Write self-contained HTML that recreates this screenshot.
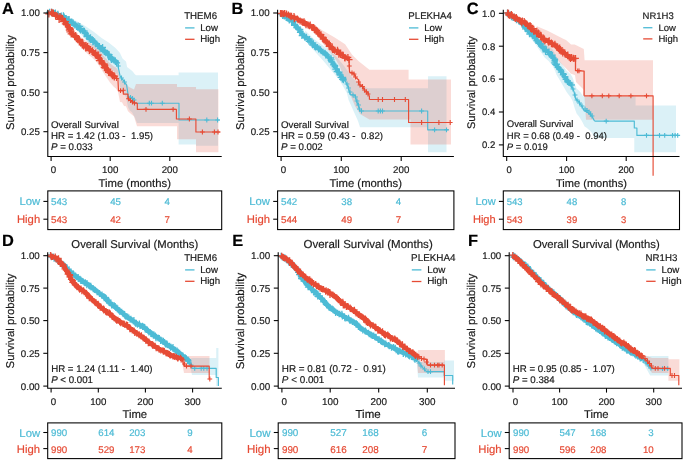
<!DOCTYPE html>
<html><head><meta charset="utf-8"><style>
html,body{margin:0;padding:0;background:#fff;}
svg{display:block;will-change:transform;}
text{font-family:"Liberation Sans",sans-serif;text-rendering:geometricPrecision;stroke:currentColor;stroke-width:0.18px;}
</style></head><body>
<svg width="685" height="461" viewBox="0 0 685 461">
<rect width="685" height="461" fill="#fff"/>
<polygon points="50.0,12.0 58.0,12.8 65.2,15.3 77.4,21.5 86.0,26.5 94.7,32.5 101.6,38.0 108.6,42.5 115.5,48.0 120.0,53.0 122.5,58.5 126.0,61.5 127.1,67.0 132.5,71.2 134.6,74.0 136.0,75.2 178.6,75.2 178.6,72.6 218.0,72.6 218.0,145.7 196.0,145.7 196.0,144.6 178.6,144.6 178.6,122.9 137.0,122.9 135.0,118.0 134.0,115.9 132.0,112.2 130.0,110.8 128.0,107.3 126.0,97.2 124.0,93.9 122.0,90.8 120.0,87.5 118.0,75.0 116.0,73.2 114.0,71.4 112.0,69.6 110.0,67.3 108.0,64.5 106.0,62.0 104.0,59.7 102.0,57.6 100.0,55.5 98.0,53.2 96.0,50.8 94.0,48.7 92.0,46.9 90.0,45.2 88.0,42.8 86.0,40.2 84.0,37.8 82.0,35.6 80.0,33.3 78.0,31.5 76.0,29.7 74.0,28.0 72.0,26.3 70.0,24.6 68.0,23.1 66.0,21.5 64.0,20.0 62.0,18.6 60.0,17.1 58.0,15.7 56.0,14.8 54.0,14.3 52.0,14.2 50.0,14.0" fill="#4DBBD5" fill-opacity="0.2" stroke="none"/>
<polygon points="50.0,12.0 52.0,12.4 54.0,13.3 56.0,14.7 58.0,15.6 60.0,16.4 62.0,17.5 64.0,18.7 66.0,20.2 68.0,23.0 70.0,26.6 72.0,30.0 74.0,31.6 76.0,33.2 78.0,34.7 80.0,36.2 82.0,37.9 84.0,39.6 86.0,41.0 88.0,42.1 90.0,43.1 92.0,44.2 94.0,45.3 96.0,46.9 98.0,48.7 100.0,51.1 102.0,53.8 104.0,56.2 106.0,58.5 108.0,60.9 110.0,63.2 112.0,64.9 114.0,66.6 116.0,67.5 118.0,69.9 120.0,79.5 122.0,79.2 124.0,82.3 126.0,81.9 128.0,86.3 130.0,87.5 132.0,88.5 134.0,89.6 136.0,83.9 177.0,83.9 177.0,87.1 196.0,87.1 196.0,89.3 218.4,89.3 218.4,152.2 196.0,152.2 196.0,139.2 177.0,139.2 177.0,126.2 137.0,126.2 136.0,122.9 134.0,116.4 132.0,114.8 130.0,113.1 128.0,111.3 126.0,106.3 124.0,105.9 122.0,102.2 120.0,101.9 118.0,91.7 116.0,88.6 114.0,87.0 112.0,84.7 110.0,82.4 108.0,79.5 106.0,76.5 104.0,73.4 102.0,70.5 100.0,67.1 98.0,64.1 96.0,61.6 94.0,59.4 92.0,57.6 90.0,55.9 88.0,54.2 86.0,52.5 84.0,50.5 82.0,48.2 80.0,45.8 78.0,43.7 76.0,41.5 74.0,39.3 72.0,37.1 70.0,33.0 68.0,28.8 66.0,25.3 64.0,23.1 62.0,21.4 60.0,19.6 58.0,18.1 56.0,16.7 54.0,15.3 52.0,14.4 50.0,14.0" fill="#E64B35" fill-opacity="0.2" stroke="none"/>
<polyline points="50.0,13.0 54.0,13.3 58.0,14.3 65.5,18.5 70.0,21.2 75.3,24.8 80.0,28.2 85.0,33.0 89.5,38.0 94.8,41.8 100.0,47.0 104.6,51.0 107.5,54.0 111.0,58.4 114.3,60.7 118.0,63.4" fill="none" stroke="#4DBBD5" stroke-width="3.6" stroke-linejoin="round" stroke-linecap="butt" />
<path d="M46.2,12.2h6.8M49.6,8.8v6.8M48.3,12.1h6.8M51.7,8.7v6.8M49.3,12.9h6.8M52.7,9.5v6.8M49.4,13.3h6.8M52.8,9.9v6.8M50.6,13.4h6.8M54.0,10.0v6.8M52.0,12.9h6.8M55.4,9.5v6.8M54.1,15.0h6.8M57.5,11.6v6.8M54.5,14.1h6.8M57.9,10.7v6.8M56.9,16.5h6.8M60.3,13.1v6.8M57.9,15.8h6.8M61.3,12.4v6.8M60.0,15.6h6.8M63.4,12.2v6.8M60.8,16.8h6.8M64.2,13.4v6.8M60.3,17.0h6.8M63.7,13.6v6.8M61.8,19.3h6.8M65.2,15.9v6.8M62.6,19.5h6.8M66.0,16.1v6.8M64.8,19.6h6.8M68.2,16.2v6.8M65.7,19.5h6.8M69.1,16.1v6.8M65.6,20.6h6.8M69.0,17.2v6.8M68.2,21.8h6.8M71.6,18.4v6.8M68.4,22.9h6.8M71.8,19.5v6.8M69.8,23.0h6.8M73.2,19.6v6.8M71.7,24.7h6.8M75.1,21.3v6.8M71.5,25.1h6.8M74.9,21.7v6.8M73.2,26.6h6.8M76.6,23.2v6.8M74.7,25.9h6.8M78.1,22.5v6.8M76.4,26.3h6.8M79.8,22.9v6.8M76.1,28.6h6.8M79.5,25.2v6.8M76.4,28.8h6.8M79.8,25.4v6.8M77.1,30.1h6.8M80.5,26.7v6.8M79.8,30.8h6.8M83.2,27.4v6.8M81.0,31.1h6.8M84.4,27.7v6.8M81.5,32.7h6.8M84.9,29.3v6.8M82.1,33.3h6.8M85.5,29.9v6.8M83.6,35.4h6.8M87.0,32.0v6.8M83.6,35.7h6.8M87.0,32.3v6.8M83.5,36.7h6.8M86.9,33.3v6.8M85.8,38.4h6.8M89.2,35.0v6.8M87.1,37.6h6.8M90.5,34.2v6.8M87.1,39.3h6.8M90.5,35.9v6.8M87.3,39.6h6.8M90.7,36.2v6.8M88.7,39.5h6.8M92.1,36.1v6.8M89.5,41.8h6.8M92.9,38.4v6.8M90.7,41.4h6.8M94.1,38.0v6.8M92.2,43.8h6.8M95.6,40.4v6.8M92.4,43.7h6.8M95.8,40.3v6.8M94.4,45.6h6.8M97.8,42.2v6.8M96.0,46.5h6.8M99.4,43.1v6.8M95.6,46.4h6.8M99.0,43.0v6.8M96.8,48.4h6.8M100.2,45.0v6.8M99.2,47.5h6.8M102.6,44.1v6.8M98.3,48.5h6.8M101.7,45.1v6.8M99.4,50.0h6.8M102.8,46.6v6.8M101.3,50.3h6.8M104.7,46.9v6.8M100.8,51.6h6.8M104.2,48.2v6.8M102.5,52.9h6.8M105.9,49.5v6.8M104.8,54.1h6.8M108.2,50.7v6.8M104.6,54.9h6.8M108.0,51.5v6.8M105.8,54.6h6.8M109.2,51.2v6.8M107.2,57.3h6.8M110.6,53.9v6.8M107.9,58.4h6.8M111.3,55.0v6.8M107.7,58.4h6.8M111.1,55.0v6.8M108.0,59.7h6.8M111.4,56.3v6.8M109.0,59.1h6.8M112.4,55.7v6.8M110.4,60.0h6.8M113.8,56.6v6.8M111.8,60.6h6.8M115.2,57.2v6.8M112.0,61.6h6.8M115.4,58.2v6.8M113.3,62.8h6.8M116.7,59.4v6.8" stroke="#4DBBD5" stroke-width="1.3" fill="none"/>
<polyline points="118.0,63.4 118.5,68.5 120.1,76.1 123.4,80.4 125.5,83.7 126.6,85.0 127.9,93.5 128.5,96.7 131.0,97.5 133.0,99.0 134.4,102.6 135.0,103.2" fill="none" stroke="#4DBBD5" stroke-width="1.2" stroke-linejoin="round" stroke-linecap="butt" />
<polyline points="135.0,103.2 179.0,103.2 179.0,120.0 219.8,120.0 219.8,120.0" fill="none" stroke="#4DBBD5" stroke-width="1.15" stroke-linejoin="round" stroke-linecap="butt" />
<path d="M146.9,103.2H151.7M149.3,100.8V105.6" stroke="#4DBBD5" stroke-width="1.1" fill="none"/>
<path d="M149.1,103.2H153.9M151.5,100.8V105.6" stroke="#4DBBD5" stroke-width="1.1" fill="none"/>
<path d="M159.9,103.2H164.7M162.3,100.8V105.6" stroke="#4DBBD5" stroke-width="1.1" fill="none"/>
<path d="M204.4,120.0H209.2M206.8,117.6V122.4" stroke="#4DBBD5" stroke-width="1.1" fill="none"/>
<path d="M215.2,120.0H220.0M217.6,117.6V122.4" stroke="#4DBBD5" stroke-width="1.1" fill="none"/>
<path d="M115.9,66.0H120.7M118.3,63.6V68.4" stroke="#4DBBD5" stroke-width="1.1" fill="none"/>
<path d="M119.1,78.0H123.9M121.5,75.6V80.4" stroke="#4DBBD5" stroke-width="1.1" fill="none"/>
<path d="M122.1,82.0H126.9M124.5,79.6V84.4" stroke="#4DBBD5" stroke-width="1.1" fill="none"/>
<path d="M128.1,97.3H132.9M130.5,94.9V99.7" stroke="#4DBBD5" stroke-width="1.1" fill="none"/>
<path d="M130.1,98.5H134.9M132.5,96.1V100.9" stroke="#4DBBD5" stroke-width="1.1" fill="none"/>
<path d="M131.6,100.0H136.4M134.0,97.6V102.4" stroke="#4DBBD5" stroke-width="1.1" fill="none"/>
<polyline points="50.0,13.0 53.0,13.6 55.8,15.6 60.0,18.0 65.5,22.0 69.0,27.5 71.4,33.0 75.3,36.7 80.0,41.0 85.0,46.1 90.0,49.5 94.8,52.9 99.0,57.5 101.9,62.0 104.6,65.6 109.7,72.5 114.7,77.5" fill="none" stroke="#E64B35" stroke-width="4.0" stroke-linejoin="round" stroke-linecap="butt" />
<path d="M45.3,13.9h7.2M48.9,10.3v7.2M47.9,12.4h7.2M51.5,8.8v7.2M48.4,13.1h7.2M52.0,9.5v7.2M49.8,13.2h7.2M53.4,9.6v7.2M52.0,16.0h7.2M55.6,12.4v7.2M52.1,15.6h7.2M55.7,12.0v7.2M52.3,15.3h7.2M55.9,11.7v7.2M54.1,16.3h7.2M57.7,12.7v7.2M56.4,16.7h7.2M60.0,13.1v7.2M55.5,19.3h7.2M59.1,15.7v7.2M57.8,18.1h7.2M61.4,14.5v7.2M58.9,18.6h7.2M62.5,15.0v7.2M59.9,21.7h7.2M63.5,18.1v7.2M61.8,21.7h7.2M65.4,18.1v7.2M61.4,21.7h7.2M65.0,18.1v7.2M61.8,23.8h7.2M65.4,20.2v7.2M63.4,24.9h7.2M67.0,21.3v7.2M63.6,24.7h7.2M67.2,21.1v7.2M65.5,27.6h7.2M69.1,24.0v7.2M66.3,28.3h7.2M69.9,24.7v7.2M66.7,29.3h7.2M70.3,25.7v7.2M65.8,30.0h7.2M69.4,26.4v7.2M66.6,30.0h7.2M70.2,26.4v7.2M66.4,31.8h7.2M70.0,28.2v7.2M67.6,33.8h7.2M71.2,30.2v7.2M70.2,34.1h7.2M73.8,30.5v7.2M71.1,36.3h7.2M74.7,32.7v7.2M72.1,35.7h7.2M75.7,32.1v7.2M71.3,36.3h7.2M74.9,32.7v7.2M72.2,37.1h7.2M75.8,33.5v7.2M74.2,39.7h7.2M77.8,36.1v7.2M75.7,39.5h7.2M79.3,35.9v7.2M76.2,41.2h7.2M79.8,37.6v7.2M75.8,41.7h7.2M79.4,38.1v7.2M78.6,43.0h7.2M82.2,39.4v7.2M79.2,43.2h7.2M82.8,39.6v7.2M78.7,44.8h7.2M82.3,41.2v7.2M80.0,45.8h7.2M83.6,42.2v7.2M82.4,45.7h7.2M86.0,42.1v7.2M82.1,47.8h7.2M85.7,44.2v7.2M84.0,46.7h7.2M87.6,43.1v7.2M83.6,47.4h7.2M87.2,43.8v7.2M86.6,49.7h7.2M90.2,46.1v7.2M85.8,50.5h7.2M89.4,46.9v7.2M88.9,50.8h7.2M92.5,47.2v7.2M88.4,51.3h7.2M92.0,47.7v7.2M88.9,50.8h7.2M92.5,47.2v7.2M92.0,53.0h7.2M95.6,49.4v7.2M91.9,54.6h7.2M95.5,51.0v7.2M92.5,55.4h7.2M96.1,51.8v7.2M94.4,54.8h7.2M98.0,51.2v7.2M93.9,56.0h7.2M97.5,52.4v7.2M94.7,57.6h7.2M98.3,54.0v7.2M95.5,58.3h7.2M99.1,54.7v7.2M95.9,60.6h7.2M99.5,57.0v7.2M97.1,60.6h7.2M100.7,57.0v7.2M98.4,62.8h7.2M102.0,59.2v7.2M98.7,63.8h7.2M102.3,60.2v7.2M99.7,64.0h7.2M103.3,60.4v7.2M100.5,63.8h7.2M104.1,60.2v7.2M101.1,65.2h7.2M104.7,61.6v7.2M100.8,67.7h7.2M104.4,64.1v7.2M102.0,68.0h7.2M105.6,64.4v7.2M104.1,69.2h7.2M107.7,65.6v7.2M103.9,70.2h7.2M107.5,66.6v7.2M105.3,71.9h7.2M108.9,68.3v7.2M105.0,72.4h7.2M108.6,68.8v7.2M106.2,72.6h7.2M109.8,69.0v7.2M108.4,74.1h7.2M112.0,70.5v7.2M108.8,75.6h7.2M112.4,72.0v7.2M110.5,75.8h7.2M114.1,72.2v7.2M110.7,76.9h7.2M114.3,73.3v7.2" stroke="#E64B35" stroke-width="1.3" fill="none"/>
<polyline points="114.7,77.5 117.9,78.8 118.5,90.7 123.3,90.7 123.3,94.1 127.9,94.1 127.9,98.7 131.0,101.0 134.0,103.0 137.3,103.0" fill="none" stroke="#E64B35" stroke-width="1.2" stroke-linejoin="round" stroke-linecap="butt" />
<polyline points="137.3,103.0 137.3,109.4 176.4,109.4 176.4,119.0 195.9,119.0 195.9,132.0 220.2,132.0" fill="none" stroke="#E64B35" stroke-width="1.15" stroke-linejoin="round" stroke-linecap="butt" />
<path d="M143.6,109.4H148.4M146.0,107.0V111.8" stroke="#E64B35" stroke-width="1.1" fill="none"/>
<path d="M170.7,109.4H175.5M173.1,107.0V111.8" stroke="#E64B35" stroke-width="1.1" fill="none"/>
<path d="M187.0,119.0H191.8M189.4,116.6V121.4" stroke="#E64B35" stroke-width="1.1" fill="none"/>
<path d="M200.0,132.0H204.8M202.4,129.6V134.4" stroke="#E64B35" stroke-width="1.1" fill="none"/>
<path d="M212.0,132.0H216.8M214.4,129.6V134.4" stroke="#E64B35" stroke-width="1.1" fill="none"/>
<path d="M215.6,132.0H220.4M218.0,129.6V134.4" stroke="#E64B35" stroke-width="1.1" fill="none"/>
<path d="M114.1,78.5H118.9M116.5,76.1V80.9" stroke="#E64B35" stroke-width="1.1" fill="none"/>
<path d="M118.1,90.7H122.9M120.5,88.3V93.1" stroke="#E64B35" stroke-width="1.1" fill="none"/>
<path d="M120.9,90.2H125.7M123.3,87.8V92.6" stroke="#E64B35" stroke-width="1.1" fill="none"/>
<path d="M126.1,98.8H130.9M128.5,96.4V101.2" stroke="#E64B35" stroke-width="1.1" fill="none"/>
<path d="M128.1,100.5H132.9M130.5,98.1V102.9" stroke="#E64B35" stroke-width="1.1" fill="none"/>
<path d="M130.1,102.0H134.9M132.5,99.6V104.4" stroke="#E64B35" stroke-width="1.1" fill="none"/>
<path d="M132.1,103.0H136.9M134.5,100.6V105.4" stroke="#E64B35" stroke-width="1.1" fill="none"/>
<polygon points="280.6,12.3 282.6,13.6 284.6,14.8 286.6,16.1 288.6,17.6 290.6,19.1 292.6,20.6 294.6,23.0 296.6,25.4 298.6,27.8 300.6,30.3 302.6,32.7 304.6,34.1 305.0,34.4 305.2,30.4 313.9,39.1 326.0,47.8 334.7,54.7 343.4,65.1 352.0,77.3 360.0,85.0 368.4,88.2 428.0,88.2 428.0,76.3 446.5,76.3 446.5,152.2 428.0,152.2 428.0,127.3 360.0,127.3 358.0,121.0 348.6,100.0 346.9,92.9 339.9,80.7 331.2,70.3 322.6,59.9 313.9,50.4 305.2,40.8 305.0,38.7 304.6,38.4 302.6,36.6 300.6,33.9 298.6,30.9 296.6,28.2 294.6,25.5 292.6,22.8 290.6,21.1 288.6,19.6 286.6,18.1 284.6,16.8 282.6,15.6 280.6,14.3" fill="#4DBBD5" fill-opacity="0.2" stroke="none"/>
<polygon points="280.6,12.3 282.6,12.7 284.6,13.1 286.6,13.5 288.6,14.0 290.6,14.9 292.6,15.9 294.6,16.8 296.6,17.7 298.6,18.5 300.6,19.4 302.6,20.3 304.6,21.3 306.6,22.3 308.6,23.4 310.0,24.2 310.4,22.6 322.6,30.4 334.7,37.4 345.1,44.3 352.1,54.7 359.0,61.6 369.4,69.8 408.6,69.8 408.6,79.5 451.0,79.5 451.0,144.6 410.5,144.6 410.5,119.6 408.6,119.6 369.4,119.6 360.0,114.0 355.0,106.0 349.0,92.0 345.0,80.0 340.0,67.0 336.0,60.0 330.0,52.0 328.0,49.7 326.6,47.9 324.6,45.4 322.6,42.9 320.6,40.3 318.6,37.7 316.6,35.5 314.6,33.5 312.6,31.5 310.6,29.9 308.6,28.4 306.6,26.9 304.6,25.6 302.6,24.2 300.6,22.9 298.6,21.7 296.6,20.5 294.6,19.4 292.6,18.3 290.6,17.1 288.6,16.0 286.6,15.5 284.6,15.1 282.6,14.7 280.6,14.3" fill="#E64B35" fill-opacity="0.2" stroke="none"/>
<polyline points="280.6,13.3 286.6,17.1 292.7,21.7 297.3,27.5 300.0,31.0 302.0,34.0 306.9,37.8 313.9,44.3 320.8,50.4 327.8,56.6 330.0,59.0 334.7,65.5 337.0,69.5 339.9,74.0 342.0,77.5 345.1,80.8" fill="none" stroke="#4DBBD5" stroke-width="3.4" stroke-linejoin="round" stroke-linecap="butt" />
<path d="M277.4,13.7h6.4M280.6,10.5v6.4M278.4,14.1h6.4M281.6,10.9v6.4M279.5,15.7h6.4M282.7,12.5v6.4M281.1,16.2h6.4M284.3,13.0v6.4M282.8,15.6h6.4M286.0,12.4v6.4M283.0,17.8h6.4M286.2,14.6v6.4M284.7,16.7h6.4M287.9,13.5v6.4M284.2,18.2h6.4M287.4,15.0v6.4M285.1,18.5h6.4M288.3,15.3v6.4M286.1,20.2h6.4M289.3,17.0v6.4M288.7,21.5h6.4M291.9,18.3v6.4M288.4,21.9h6.4M291.6,18.7v6.4M290.4,21.6h6.4M293.6,18.4v6.4M291.7,24.4h6.4M294.9,21.2v6.4M291.0,25.4h6.4M294.2,22.2v6.4M292.2,25.4h6.4M295.4,22.2v6.4M294.3,27.2h6.4M297.5,24.0v6.4M293.3,27.3h6.4M296.5,24.1v6.4M294.9,28.1h6.4M298.1,24.9v6.4M295.0,29.1h6.4M298.2,25.9v6.4M296.9,29.5h6.4M300.1,26.3v6.4M297.3,31.5h6.4M300.5,28.3v6.4M296.9,32.3h6.4M300.1,29.1v6.4M298.9,33.8h6.4M302.1,30.6v6.4M298.7,35.7h6.4M301.9,32.5v6.4M301.3,36.5h6.4M304.5,33.3v6.4M300.8,35.7h6.4M304.0,32.5v6.4M301.7,37.6h6.4M304.9,34.4v6.4M303.2,37.0h6.4M306.4,33.8v6.4M304.5,39.6h6.4M307.7,36.4v6.4M306.3,39.1h6.4M309.5,35.9v6.4M305.8,41.4h6.4M309.0,38.2v6.4M307.7,41.8h6.4M310.9,38.6v6.4M307.6,41.3h6.4M310.8,38.1v6.4M309.9,43.0h6.4M313.1,39.8v6.4M309.4,45.0h6.4M312.6,41.8v6.4M311.7,45.5h6.4M314.9,42.3v6.4M311.4,46.5h6.4M314.6,43.3v6.4M312.4,47.4h6.4M315.6,44.2v6.4M314.2,47.1h6.4M317.4,43.9v6.4M315.4,49.3h6.4M318.6,46.1v6.4M315.7,48.4h6.4M318.9,45.2v6.4M317.3,49.5h6.4M320.5,46.3v6.4M317.3,50.2h6.4M320.5,47.0v6.4M318.2,51.1h6.4M321.4,47.9v6.4M319.7,52.2h6.4M322.9,49.0v6.4M321.7,53.0h6.4M324.9,49.8v6.4M322.1,53.6h6.4M325.3,50.4v6.4M322.7,54.2h6.4M325.9,51.0v6.4M323.5,55.0h6.4M326.7,51.8v6.4M325.5,57.1h6.4M328.7,53.9v6.4M325.1,57.9h6.4M328.3,54.7v6.4M327.7,58.0h6.4M330.9,54.8v6.4M328.2,59.8h6.4M331.4,56.6v6.4M328.2,61.7h6.4M331.4,58.5v6.4M328.8,62.1h6.4M332.0,58.9v6.4M330.2,64.2h6.4M333.4,61.0v6.4M330.2,64.9h6.4M333.4,61.7v6.4M331.7,65.5h6.4M334.9,62.3v6.4M331.8,66.0h6.4M335.0,62.8v6.4M331.6,66.6h6.4M334.8,63.4v6.4M332.3,69.1h6.4M335.5,65.9v6.4M333.4,68.9h6.4M336.6,65.7v6.4M333.7,71.5h6.4M336.9,68.3v6.4M336.1,72.2h6.4M339.3,69.0v6.4M335.6,72.4h6.4M338.8,69.2v6.4M336.3,74.0h6.4M339.5,70.8v6.4M336.7,75.1h6.4M339.9,71.9v6.4M337.6,77.3h6.4M340.8,74.1v6.4M339.8,77.5h6.4M343.0,74.3v6.4M339.1,79.4h6.4M342.3,76.2v6.4M340.1,79.0h6.4M343.3,75.8v6.4M340.3,80.0h6.4M343.5,76.8v6.4" stroke="#4DBBD5" stroke-width="1.3" fill="none"/>
<polyline points="345.1,80.8 347.7,85.9 349.7,92.5 350.3,94.6 354.3,95.0 355.5,96.4 356.5,101.2 358.7,106.6 359.8,111.0" fill="none" stroke="#4DBBD5" stroke-width="1.2" stroke-linejoin="round" stroke-linecap="butt" />
<polyline points="359.8,111.0 427.7,111.0 427.7,129.8 448.7,129.8" fill="none" stroke="#4DBBD5" stroke-width="1.15" stroke-linejoin="round" stroke-linecap="butt" />
<path d="M359.1,111.0H363.9M361.5,108.6V113.4" stroke="#4DBBD5" stroke-width="1.1" fill="none"/>
<path d="M375.8,111.0H380.6M378.2,108.6V113.4" stroke="#4DBBD5" stroke-width="1.1" fill="none"/>
<path d="M378.0,111.0H382.8M380.4,108.6V113.4" stroke="#4DBBD5" stroke-width="1.1" fill="none"/>
<path d="M380.1,111.0H384.9M382.5,108.6V113.4" stroke="#4DBBD5" stroke-width="1.1" fill="none"/>
<path d="M419.2,111.0H424.0M421.6,108.6V113.4" stroke="#4DBBD5" stroke-width="1.1" fill="none"/>
<path d="M432.2,129.8H437.0M434.6,127.4V132.2" stroke="#4DBBD5" stroke-width="1.1" fill="none"/>
<path d="M444.1,129.8H448.9M446.5,127.4V132.2" stroke="#4DBBD5" stroke-width="1.1" fill="none"/>
<path d="M344.6,84.0H349.4M347.0,81.6V86.4" stroke="#4DBBD5" stroke-width="1.1" fill="none"/>
<path d="M346.1,88.0H350.9M348.5,85.6V90.4" stroke="#4DBBD5" stroke-width="1.1" fill="none"/>
<path d="M347.6,92.0H352.4M350.0,89.6V94.4" stroke="#4DBBD5" stroke-width="1.1" fill="none"/>
<path d="M350.6,95.0H355.4M353.0,92.6V97.4" stroke="#4DBBD5" stroke-width="1.1" fill="none"/>
<path d="M353.1,97.0H357.9M355.5,94.6V99.4" stroke="#4DBBD5" stroke-width="1.1" fill="none"/>
<path d="M354.6,101.0H359.4M357.0,98.6V103.4" stroke="#4DBBD5" stroke-width="1.1" fill="none"/>
<path d="M356.1,105.0H360.9M358.5,102.6V107.4" stroke="#4DBBD5" stroke-width="1.1" fill="none"/>
<path d="M357.1,109.0H361.9M359.5,106.6V111.4" stroke="#4DBBD5" stroke-width="1.1" fill="none"/>
<polyline points="280.6,13.3 288.1,14.8 294.0,17.5 300.0,20.2 306.0,23.5 312.0,27.2 318.0,32.5 324.0,39.5 330.0,46.3 336.0,50.6 339.8,53.6 343.4,55.6 346.0,57.5 349.0,59.7" fill="none" stroke="#E64B35" stroke-width="3.6" stroke-linejoin="round" stroke-linecap="butt" />
<path d="M277.1,13.3h6.8M280.5,9.9v6.8M277.8,13.6h6.8M281.2,10.2v6.8M278.7,13.3h6.8M282.1,9.9v6.8M280.1,13.8h6.8M283.5,10.4v6.8M281.3,13.3h6.8M284.7,9.9v6.8M283.1,14.0h6.8M286.5,10.6v6.8M285.0,14.9h6.8M288.4,11.5v6.8M286.6,15.8h6.8M290.0,12.4v6.8M287.7,16.8h6.8M291.1,13.4v6.8M288.1,16.1h6.8M291.5,12.7v6.8M290.6,16.3h6.8M294.0,12.9v6.8M291.2,17.9h6.8M294.6,14.5v6.8M290.9,18.8h6.8M294.3,15.4v6.8M294.0,18.9h6.8M297.4,15.5v6.8M294.8,19.9h6.8M298.2,16.5v6.8M294.7,19.8h6.8M298.1,16.4v6.8M296.7,21.0h6.8M300.1,17.6v6.8M298.5,21.6h6.8M301.9,18.2v6.8M299.1,22.4h6.8M302.5,19.0v6.8M300.5,22.5h6.8M303.9,19.1v6.8M300.6,21.7h6.8M304.0,18.3v6.8M301.6,23.1h6.8M305.0,19.7v6.8M302.6,24.8h6.8M306.0,21.4v6.8M304.7,25.0h6.8M308.1,21.6v6.8M306.0,25.8h6.8M309.4,22.4v6.8M306.8,25.0h6.8M310.2,21.6v6.8M308.6,27.3h6.8M312.0,23.9v6.8M309.0,27.6h6.8M312.4,24.2v6.8M310.3,27.4h6.8M313.7,24.0v6.8M311.4,28.7h6.8M314.8,25.3v6.8M311.0,29.6h6.8M314.4,26.2v6.8M313.4,30.3h6.8M316.8,26.9v6.8M314.4,32.9h6.8M317.8,29.5v6.8M314.8,32.5h6.8M318.2,29.1v6.8M315.6,34.1h6.8M319.0,30.7v6.8M317.1,34.9h6.8M320.5,31.5v6.8M317.6,34.7h6.8M321.0,31.3v6.8M317.4,36.1h6.8M320.8,32.7v6.8M319.5,37.2h6.8M322.9,33.8v6.8M320.0,37.6h6.8M323.4,34.2v6.8M319.7,39.1h6.8M323.1,35.7v6.8M321.9,41.0h6.8M325.3,37.6v6.8M322.8,41.1h6.8M326.2,37.7v6.8M323.3,42.5h6.8M326.7,39.1v6.8M324.1,42.7h6.8M327.5,39.3v6.8M325.9,43.8h6.8M329.3,40.4v6.8M326.9,46.4h6.8M330.3,43.0v6.8M325.7,46.3h6.8M329.1,42.9v6.8M328.5,48.2h6.8M331.9,44.8v6.8M328.8,47.4h6.8M332.2,44.0v6.8M329.3,49.7h6.8M332.7,46.3v6.8M330.3,49.6h6.8M333.7,46.2v6.8M331.3,50.3h6.8M334.7,46.9v6.8M334.1,50.2h6.8M337.5,46.8v6.8M334.8,51.8h6.8M338.2,48.4v6.8M336.0,53.0h6.8M339.4,49.6v6.8M335.5,54.3h6.8M338.9,50.9v6.8M337.2,53.0h6.8M340.6,49.6v6.8M337.3,54.7h6.8M340.7,51.3v6.8M339.4,54.9h6.8M342.8,51.5v6.8M339.8,55.7h6.8M343.2,52.3v6.8M341.3,57.6h6.8M344.7,54.2v6.8M341.6,58.1h6.8M345.0,54.7v6.8M344.5,57.5h6.8M347.9,54.1v6.8M345.7,59.6h6.8M349.1,56.2v6.8" stroke="#E64B35" stroke-width="1.3" fill="none"/>
<polyline points="349.0,59.7 349.5,72.1 353.8,73.4 355.5,77.3 358.8,80.0 359.0,84.2 362.6,86.3 364.9,91.0 368.0,92.4 369.4,96.4 369.4,99.5" fill="none" stroke="#E64B35" stroke-width="1.2" stroke-linejoin="round" stroke-linecap="butt" />
<polyline points="369.4,99.5 408.6,99.5 408.6,122.5 452.0,122.5" fill="none" stroke="#E64B35" stroke-width="1.15" stroke-linejoin="round" stroke-linecap="butt" />
<path d="M375.8,99.5H380.6M378.2,97.1V101.9" stroke="#E64B35" stroke-width="1.1" fill="none"/>
<path d="M380.1,99.5H384.9M382.5,97.1V101.9" stroke="#E64B35" stroke-width="1.1" fill="none"/>
<path d="M392.1,99.5H396.9M394.5,97.1V101.9" stroke="#E64B35" stroke-width="1.1" fill="none"/>
<path d="M402.9,99.5H407.7M405.3,97.1V101.9" stroke="#E64B35" stroke-width="1.1" fill="none"/>
<path d="M419.2,122.5H424.0M421.6,120.1V124.9" stroke="#E64B35" stroke-width="1.1" fill="none"/>
<path d="M436.5,122.5H441.3M438.9,120.1V124.9" stroke="#E64B35" stroke-width="1.1" fill="none"/>
<path d="M447.8,122.5H452.6M450.2,120.1V124.9" stroke="#E64B35" stroke-width="1.1" fill="none"/>
<path d="M346.9,66.0H351.7M349.3,63.6V68.4" stroke="#E64B35" stroke-width="1.1" fill="none"/>
<path d="M349.6,73.0H354.4M352.0,70.6V75.4" stroke="#E64B35" stroke-width="1.1" fill="none"/>
<path d="M351.6,74.0H356.4M354.0,71.6V76.4" stroke="#E64B35" stroke-width="1.1" fill="none"/>
<path d="M353.1,77.0H357.9M355.5,74.6V79.4" stroke="#E64B35" stroke-width="1.1" fill="none"/>
<path d="M356.1,82.0H360.9M358.5,79.6V84.4" stroke="#E64B35" stroke-width="1.1" fill="none"/>
<path d="M357.6,85.0H362.4M360.0,82.6V87.4" stroke="#E64B35" stroke-width="1.1" fill="none"/>
<path d="M360.1,86.5H364.9M362.5,84.1V88.9" stroke="#E64B35" stroke-width="1.1" fill="none"/>
<path d="M362.1,90.0H366.9M364.5,87.6V92.4" stroke="#E64B35" stroke-width="1.1" fill="none"/>
<path d="M364.1,92.0H368.9M366.5,89.6V94.4" stroke="#E64B35" stroke-width="1.1" fill="none"/>
<path d="M365.6,94.0H370.4M368.0,91.6V96.4" stroke="#E64B35" stroke-width="1.1" fill="none"/>
<polygon points="506.6,12.3 508.6,13.3 510.6,14.3 512.6,15.3 514.6,16.3 516.6,17.4 518.6,18.6 520.6,20.0 522.6,22.2 524.6,24.4 526.6,26.3 528.6,28.1 530.6,29.8 532.6,31.5 534.6,33.2 536.6,35.2 538.6,37.5 540.6,39.7 542.6,41.8 544.6,43.9 546.6,44.9 548.6,46.0 550.6,47.7 552.6,49.6 554.6,52.7 556.6,57.0 558.6,59.7 560.6,62.3 562.6,65.0 564.6,67.8 566.6,70.7 568.6,72.6 570.6,74.3 572.6,77.5 574.6,83.5 576.6,88.5 578.6,90.3 580.6,92.6 582.6,95.4 583.0,96.2 584.0,90.0 585.0,96.4 594.5,96.4 635.6,96.4 635.6,105.6 676.0,105.6 676.0,152.3 634.3,152.3 634.3,138.0 594.5,138.0 592.0,133.1 590.6,131.6 588.6,129.6 586.6,127.7 584.6,126.4 582.6,122.6 580.6,119.1 578.6,116.1 576.6,113.6 574.6,107.9 572.6,101.1 570.6,97.2 568.6,94.8 566.6,92.1 564.6,88.5 562.6,85.0 560.6,81.6 558.6,78.3 556.6,74.9 554.6,69.8 552.6,66.0 550.6,63.4 548.6,61.0 546.6,59.2 544.6,57.4 542.6,54.6 540.6,51.8 538.6,48.9 536.6,45.9 534.6,43.1 532.6,40.7 530.6,38.3 528.6,35.9 526.6,33.3 524.6,30.8 522.6,27.8 520.6,24.9 518.6,22.8 516.6,20.9 514.6,19.0 512.6,17.5 510.6,16.3 508.6,15.3 506.6,14.3" fill="#4DBBD5" fill-opacity="0.2" stroke="none"/>
<polygon points="506.6,12.3 508.6,13.1 510.6,13.8 512.6,14.6 514.6,15.8 516.6,16.9 518.6,17.9 520.6,19.0 522.6,20.0 524.6,21.0 526.6,22.2 528.6,23.5 530.6,24.7 532.6,26.2 534.6,27.8 536.0,28.8 536.9,26.2 547.6,30.8 562.7,38.4 566.0,40.0 571.1,44.4 574.7,44.6 583.8,49.1 584.6,60.2 653.0,60.2 653.0,119.8 586.0,119.8 584.0,90.0 576.0,82.0 575.0,75.2 574.6,75.1 572.6,74.3 570.6,73.5 568.6,71.3 566.6,68.9 564.6,66.9 562.6,64.9 560.6,62.9 558.6,60.7 556.6,58.6 554.6,56.6 552.6,55.0 550.6,53.5 548.6,51.9 546.6,50.1 544.6,48.4 542.6,46.6 540.6,44.4 538.6,42.2 536.6,39.9 534.6,37.7 532.6,35.4 530.6,33.2 528.6,31.2 526.6,29.3 524.6,27.3 522.6,25.6 520.6,23.8 518.6,22.1 516.6,20.4 514.6,18.7 512.6,16.9 510.6,15.8 508.6,15.1 506.6,14.3" fill="#E64B35" fill-opacity="0.2" stroke="none"/>
<polyline points="506.6,13.3 514.1,17.1 520.2,21.7 524.8,27.5 529.3,32.3 535.4,38.4 540.0,44.4 544.5,49.8 549.1,53.0 553.6,58.0 556.7,65.2 561.2,71.8 564.3,76.5 567.1,81.0 571.7,85.6" fill="none" stroke="#4DBBD5" stroke-width="3.4" stroke-linejoin="round" stroke-linecap="butt" />
<path d="M504.3,12.8h6.4M507.5,9.6v6.4M504.3,13.7h6.4M507.5,10.5v6.4M506.8,14.7h6.4M510.0,11.5v6.4M506.6,14.9h6.4M509.8,11.7v6.4M507.5,14.7h6.4M510.7,11.5v6.4M508.3,17.0h6.4M511.5,13.8v6.4M509.9,17.8h6.4M513.1,14.6v6.4M510.9,17.0h6.4M514.1,13.8v6.4M512.5,17.6h6.4M515.7,14.4v6.4M513.3,20.1h6.4M516.5,16.9v6.4M515.4,20.6h6.4M518.6,17.4v6.4M515.9,21.6h6.4M519.1,18.4v6.4M517.6,21.5h6.4M520.8,18.3v6.4M518.0,21.4h6.4M521.2,18.2v6.4M518.8,23.3h6.4M522.0,20.1v6.4M519.7,24.7h6.4M522.9,21.5v6.4M519.5,24.4h6.4M522.7,21.2v6.4M521.7,25.6h6.4M524.9,22.4v6.4M521.5,27.1h6.4M524.7,23.9v6.4M522.0,28.9h6.4M525.2,25.7v6.4M524.4,28.8h6.4M527.6,25.6v6.4M524.6,29.9h6.4M527.8,26.7v6.4M525.2,31.0h6.4M528.4,27.8v6.4M525.3,31.5h6.4M528.5,28.3v6.4M526.3,34.0h6.4M529.5,30.8v6.4M527.8,33.4h6.4M531.0,30.2v6.4M529.7,36.1h6.4M532.9,32.9v6.4M529.6,35.1h6.4M532.8,31.9v6.4M529.9,35.9h6.4M533.1,32.7v6.4M531.2,36.8h6.4M534.4,33.6v6.4M531.8,38.1h6.4M535.0,34.9v6.4M533.4,40.6h6.4M536.6,37.4v6.4M534.5,40.5h6.4M537.7,37.3v6.4M534.6,41.8h6.4M537.8,38.6v6.4M535.3,42.4h6.4M538.5,39.2v6.4M535.4,43.3h6.4M538.6,40.1v6.4M538.2,44.0h6.4M541.4,40.8v6.4M538.0,46.1h6.4M541.2,42.9v6.4M539.6,46.2h6.4M542.8,43.0v6.4M539.2,47.3h6.4M542.4,44.1v6.4M540.3,48.7h6.4M543.5,45.5v6.4M542.3,50.6h6.4M545.5,47.4v6.4M543.2,49.5h6.4M546.4,46.3v6.4M542.4,51.8h6.4M545.6,48.6v6.4M545.4,52.0h6.4M548.6,48.8v6.4M545.8,51.7h6.4M549.0,48.5v6.4M546.3,54.6h6.4M549.5,51.4v6.4M548.1,55.5h6.4M551.3,52.3v6.4M549.3,55.1h6.4M552.5,51.9v6.4M548.3,55.8h6.4M551.5,52.6v6.4M550.1,58.0h6.4M553.3,54.8v6.4M551.7,59.2h6.4M554.9,56.0v6.4M551.5,60.4h6.4M554.7,57.2v6.4M551.6,61.2h6.4M554.8,58.0v6.4M551.2,62.9h6.4M554.4,59.7v6.4M552.2,64.4h6.4M555.4,61.2v6.4M553.6,64.2h6.4M556.8,61.0v6.4M553.1,65.2h6.4M556.3,62.0v6.4M554.9,67.3h6.4M558.1,64.1v6.4M554.5,67.0h6.4M557.7,63.8v6.4M556.1,69.2h6.4M559.3,66.0v6.4M556.6,69.5h6.4M559.8,66.3v6.4M557.8,70.1h6.4M561.0,66.9v6.4M557.8,72.1h6.4M561.0,68.9v6.4M560.0,73.6h6.4M563.2,70.4v6.4M560.5,74.3h6.4M563.7,71.1v6.4M559.8,74.9h6.4M563.0,71.7v6.4M562.1,77.0h6.4M565.3,73.8v6.4M561.4,76.6h6.4M564.6,73.4v6.4M562.5,79.1h6.4M565.7,75.9v6.4M563.0,79.3h6.4M566.2,76.1v6.4M564.3,81.9h6.4M567.5,78.7v6.4M564.2,80.9h6.4M567.4,77.7v6.4M565.4,82.6h6.4M568.6,79.4v6.4M567.0,83.1h6.4M570.2,79.9v6.4M568.2,85.2h6.4M571.4,82.0v6.4M568.5,84.9h6.4M571.7,81.7v6.4" stroke="#4DBBD5" stroke-width="1.3" fill="none"/>
<polyline points="571.7,85.6 574.0,91.6 575.5,98.5 579.3,102.5 582.3,106.8 584.1,110.7 587.0,112.0 591.9,115.9 594.5,121.1" fill="none" stroke="#4DBBD5" stroke-width="1.2" stroke-linejoin="round" stroke-linecap="butt" />
<polyline points="594.5,121.1 634.3,121.1 634.3,128.0 636.9,128.0 636.9,135.4 677.7,135.4" fill="none" stroke="#4DBBD5" stroke-width="1.15" stroke-linejoin="round" stroke-linecap="butt" />
<path d="M603.8,121.1H608.6M606.2,118.7V123.5" stroke="#4DBBD5" stroke-width="1.1" fill="none"/>
<path d="M644.1,135.4H648.9M646.5,133.0V137.8" stroke="#4DBBD5" stroke-width="1.1" fill="none"/>
<path d="M657.1,135.4H661.9M659.5,133.0V137.8" stroke="#4DBBD5" stroke-width="1.1" fill="none"/>
<path d="M662.3,135.4H667.1M664.7,133.0V137.8" stroke="#4DBBD5" stroke-width="1.1" fill="none"/>
<path d="M670.1,135.4H674.9M672.5,133.0V137.8" stroke="#4DBBD5" stroke-width="1.1" fill="none"/>
<path d="M672.7,135.4H677.5M675.1,133.0V137.8" stroke="#4DBBD5" stroke-width="1.1" fill="none"/>
<path d="M675.3,135.4H680.1M677.7,133.0V137.8" stroke="#4DBBD5" stroke-width="1.1" fill="none"/>
<path d="M570.6,89.0H575.4M573.0,86.6V91.4" stroke="#4DBBD5" stroke-width="1.1" fill="none"/>
<path d="M572.6,95.0H577.4M575.0,92.6V97.4" stroke="#4DBBD5" stroke-width="1.1" fill="none"/>
<path d="M574.6,100.0H579.4M577.0,97.6V102.4" stroke="#4DBBD5" stroke-width="1.1" fill="none"/>
<path d="M577.1,103.0H581.9M579.5,100.6V105.4" stroke="#4DBBD5" stroke-width="1.1" fill="none"/>
<path d="M579.6,106.0H584.4M582.0,103.6V108.4" stroke="#4DBBD5" stroke-width="1.1" fill="none"/>
<path d="M582.6,109.0H587.4M585.0,106.6V111.4" stroke="#4DBBD5" stroke-width="1.1" fill="none"/>
<path d="M584.6,110.5H589.4M587.0,108.1V112.9" stroke="#4DBBD5" stroke-width="1.1" fill="none"/>
<path d="M586.6,112.0H591.4M589.0,109.6V114.4" stroke="#4DBBD5" stroke-width="1.1" fill="none"/>
<path d="M588.1,114.0H592.9M590.5,111.6V116.4" stroke="#4DBBD5" stroke-width="1.1" fill="none"/>
<path d="M589.6,116.0H594.4M592.0,113.6V118.4" stroke="#4DBBD5" stroke-width="1.1" fill="none"/>
<polyline points="506.6,13.3 512.6,15.6 518.7,19.4 524.8,23.2 530.8,27.7 536.9,33.1 543.0,38.4 549.1,42.2 555.1,45.4 561.2,50.5 567.3,55.1 570.2,58.2 575.5,59.0" fill="none" stroke="#E64B35" stroke-width="3.6" stroke-linejoin="round" stroke-linecap="butt" />
<path d="M504.2,12.9h6.8M507.6,9.5v6.8M505.1,13.2h6.8M508.5,9.8v6.8M505.0,14.8h6.8M508.4,11.4v6.8M506.4,15.7h6.8M509.8,12.3v6.8M508.0,14.5h6.8M511.4,11.1v6.8M508.7,15.5h6.8M512.1,12.1v6.8M510.7,17.3h6.8M514.1,13.9v6.8M510.7,16.8h6.8M514.1,13.4v6.8M511.9,18.7h6.8M515.3,15.3v6.8M512.9,17.4h6.8M516.3,14.0v6.8M513.8,18.8h6.8M517.2,15.4v6.8M516.8,20.6h6.8M520.2,17.2v6.8M517.5,21.5h6.8M520.9,18.1v6.8M519.0,20.8h6.8M522.4,17.4v6.8M518.5,22.8h6.8M521.9,19.4v6.8M520.8,21.5h6.8M524.2,18.1v6.8M521.8,22.9h6.8M525.2,19.5v6.8M522.2,23.6h6.8M525.6,20.2v6.8M522.8,23.7h6.8M526.2,20.3v6.8M524.0,25.2h6.8M527.4,21.8v6.8M526.6,25.5h6.8M530.0,22.1v6.8M527.6,26.5h6.8M531.0,23.1v6.8M527.3,28.6h6.8M530.7,25.2v6.8M529.3,28.6h6.8M532.7,25.2v6.8M528.6,29.6h6.8M532.0,26.2v6.8M530.3,31.4h6.8M533.7,28.0v6.8M530.8,31.0h6.8M534.2,27.6v6.8M533.4,31.2h6.8M536.8,27.8v6.8M533.3,33.8h6.8M536.7,30.4v6.8M535.0,32.9h6.8M538.4,29.5v6.8M534.4,33.8h6.8M537.8,30.4v6.8M537.3,35.1h6.8M540.7,31.7v6.8M537.9,37.4h6.8M541.3,34.0v6.8M538.0,36.8h6.8M541.4,33.4v6.8M540.4,38.4h6.8M543.8,35.0v6.8M539.9,39.4h6.8M543.3,36.0v6.8M541.1,39.1h6.8M544.5,35.7v6.8M541.5,40.9h6.8M544.9,37.5v6.8M544.7,41.3h6.8M548.1,37.9v6.8M545.8,40.6h6.8M549.2,37.2v6.8M545.4,42.3h6.8M548.8,38.9v6.8M548.1,43.9h6.8M551.5,40.5v6.8M548.0,43.0h6.8M551.4,39.6v6.8M549.2,44.2h6.8M552.6,40.8v6.8M551.5,44.1h6.8M554.9,40.7v6.8M552.4,45.9h6.8M555.8,42.5v6.8M553.4,46.8h6.8M556.8,43.4v6.8M553.9,46.7h6.8M557.3,43.3v6.8M554.3,47.6h6.8M557.7,44.2v6.8M556.3,47.8h6.8M559.7,44.4v6.8M556.0,50.1h6.8M559.4,46.7v6.8M557.1,49.4h6.8M560.5,46.0v6.8M557.7,51.3h6.8M561.1,47.9v6.8M559.4,53.0h6.8M562.8,49.6v6.8M561.6,53.8h6.8M565.0,50.4v6.8M561.3,52.6h6.8M564.7,49.2v6.8M562.0,54.3h6.8M565.4,50.9v6.8M564.4,55.0h6.8M567.8,51.6v6.8M564.2,55.9h6.8M567.6,52.5v6.8M565.9,57.4h6.8M569.3,54.0v6.8M567.1,58.7h6.8M570.5,55.3v6.8M568.1,57.5h6.8M571.5,54.1v6.8M569.8,58.1h6.8M573.2,54.7v6.8M570.5,58.5h6.8M573.9,55.1v6.8M572.1,58.3h6.8M575.5,54.9v6.8" stroke="#E64B35" stroke-width="1.3" fill="none"/>
<polyline points="575.5,59.0 575.5,70.4 584.1,71.1 584.1,95.8" fill="none" stroke="#E64B35" stroke-width="1.3" stroke-linejoin="round" stroke-linecap="butt" />
<polyline points="584.1,95.8 653.1,95.8 653.1,175.8" fill="none" stroke="#E64B35" stroke-width="1.15" stroke-linejoin="round" stroke-linecap="butt" />
<path d="M589.5,95.8H594.3M591.9,93.4V98.2" stroke="#E64B35" stroke-width="1.1" fill="none"/>
<path d="M599.9,95.8H604.7M602.3,93.4V98.2" stroke="#E64B35" stroke-width="1.1" fill="none"/>
<path d="M606.4,95.8H611.2M608.8,93.4V98.2" stroke="#E64B35" stroke-width="1.1" fill="none"/>
<path d="M616.8,95.8H621.6M619.2,93.4V98.2" stroke="#E64B35" stroke-width="1.1" fill="none"/>
<path d="M628.5,95.8H633.3M630.9,93.4V98.2" stroke="#E64B35" stroke-width="1.1" fill="none"/>
<path d="M644.1,95.8H648.9M646.5,93.4V98.2" stroke="#E64B35" stroke-width="1.1" fill="none"/>
<path d="M575.3,70.8H580.1M577.7,68.4V73.2" stroke="#E64B35" stroke-width="1.1" fill="none"/>
<path d="M576.6,70.8H581.4M579.0,68.4V73.2" stroke="#E64B35" stroke-width="1.1" fill="none"/>
<polygon points="50.9,254.5 52.9,255.6 54.9,256.7 56.9,258.3 58.9,259.9 60.9,261.7 62.9,263.6 64.9,265.6 66.9,267.5 68.9,269.3 70.9,271.1 72.9,272.8 74.9,274.4 76.9,275.8 78.9,277.3 80.9,278.8 82.9,280.0 84.9,281.3 86.9,282.6 88.9,283.8 90.9,285.3 92.9,286.9 94.9,288.4 96.9,289.9 98.9,291.6 100.9,293.4 102.9,295.1 104.9,296.9 106.9,298.8 108.9,300.7 110.9,302.6 112.9,304.4 114.9,305.9 116.9,307.3 118.9,308.8 120.9,310.4 122.9,312.2 124.9,314.0 126.9,315.8 128.9,317.3 130.9,318.5 132.9,319.7 134.9,320.9 136.9,322.1 138.9,323.4 140.9,324.7 142.9,326.0 144.9,327.2 146.9,328.5 148.9,330.0 150.9,331.5 152.9,332.9 154.9,334.4 156.9,335.9 158.9,337.3 160.9,338.7 162.9,340.2 164.9,341.6 166.9,342.8 168.9,344.0 170.9,345.2 172.9,346.4 174.9,347.8 176.9,349.2 178.9,350.6 180.9,352.1 182.9,353.6 184.9,355.3 186.9,356.9 188.9,358.4 189.5,358.8 192.0,358.0 209.5,358.0 209.5,358.0 216.2,358.0 216.2,348.0 218.4,348.0 218.4,386.0 216.2,386.0 216.2,375.0 209.5,375.0 192.0,375.0 189.5,363.6 188.9,363.1 186.9,361.5 184.9,359.8 182.9,358.0 180.9,356.3 178.9,354.8 176.9,353.2 174.9,351.7 172.9,350.2 170.9,348.8 168.9,347.5 166.9,346.2 164.9,344.9 162.9,343.3 160.9,341.8 158.9,340.2 156.9,338.7 154.9,337.1 152.9,335.5 150.9,333.9 148.9,332.4 146.9,330.9 144.9,329.6 142.9,328.4 140.9,327.1 138.9,325.8 136.9,324.5 134.9,323.3 132.9,322.1 130.9,320.9 128.9,319.7 126.9,318.2 124.9,316.4 122.9,314.6 120.9,312.8 118.9,311.2 116.9,309.7 114.9,308.3 112.9,306.8 110.9,305.0 108.9,303.1 106.9,301.2 104.9,299.3 102.9,297.5 100.9,295.8 98.9,294.0 96.9,292.3 94.9,290.8 92.9,289.2 90.9,287.7 88.9,286.2 86.9,285.0 84.9,283.7 82.9,282.4 80.9,281.2 78.9,279.7 76.9,278.2 74.9,276.8 72.9,275.2 70.9,273.5 68.9,271.7 66.9,269.9 64.9,268.0 62.9,266.0 60.9,264.1 58.9,262.3 56.9,260.7 54.9,259.1 52.9,258.0 50.9,256.9" fill="#4DBBD5" fill-opacity="0.2" stroke="none"/>
<polygon points="50.9,254.5 52.9,255.4 54.9,256.3 56.9,257.2 58.9,259.1 60.9,261.5 62.9,263.9 64.9,267.0 66.9,270.3 68.9,274.0 70.9,277.8 72.9,280.5 74.9,282.7 76.9,285.0 78.9,286.5 80.9,287.9 82.9,289.3 84.9,290.7 86.9,292.8 88.9,294.9 90.9,297.0 92.9,299.1 94.9,300.9 96.9,302.6 98.9,304.4 100.9,306.2 102.9,307.7 104.9,309.3 106.9,310.8 108.9,312.4 110.9,313.9 112.9,315.4 114.9,316.9 116.9,318.3 118.9,319.6 120.9,320.9 122.9,322.2 124.9,323.5 126.9,324.9 128.9,326.3 130.9,327.6 132.9,329.0 134.9,330.5 136.9,331.9 138.9,333.4 140.9,334.9 142.9,336.4 144.9,337.9 146.9,339.4 148.9,340.9 150.9,342.3 152.9,343.7 154.9,345.1 156.9,346.4 158.9,347.3 160.9,348.3 162.9,349.3 164.9,350.3 166.9,351.3 168.9,352.3 170.9,353.3 172.9,354.3 174.9,354.9 176.9,355.3 178.9,355.8 180.9,356.2 181.7,356.3 184.0,356.0 209.5,356.0 209.5,373.0 184.0,373.0 181.7,360.7 180.9,360.4 178.9,359.9 176.9,359.4 174.9,358.8 172.9,358.1 170.9,357.0 168.9,355.8 166.9,354.7 164.9,353.6 162.9,352.5 160.9,351.4 158.9,350.3 156.9,349.2 154.9,347.8 152.9,346.3 150.9,344.8 148.9,343.3 146.9,341.8 144.9,340.3 142.9,338.8 140.9,337.3 138.9,335.8 136.9,334.3 134.9,332.9 132.9,331.4 130.9,330.0 128.9,328.7 126.9,327.3 124.9,325.9 122.9,324.6 120.9,323.3 118.9,322.0 116.9,320.7 114.9,319.3 112.9,317.8 110.9,316.3 108.9,314.8 106.9,313.2 104.9,311.7 102.9,310.1 100.9,308.6 98.9,306.8 96.9,305.0 94.9,303.3 92.9,301.5 90.9,299.4 88.9,297.3 86.9,295.2 84.9,293.1 82.9,291.7 80.9,290.3 78.9,288.9 76.9,287.4 74.9,285.1 72.9,282.9 70.9,280.2 68.9,276.4 66.9,272.7 64.9,269.4 62.9,266.3 60.9,263.9 58.9,261.5 56.9,259.6 54.9,258.7 52.9,257.8 50.9,256.9" fill="#E64B35" fill-opacity="0.2" stroke="none"/>
<polyline points="50.9,255.7 55.0,258.0 59.7,261.7 67.5,269.3 73.3,274.4 81.1,280.1 89.0,285.1 96.8,291.0 104.6,297.8 112.4,305.2 120.2,311.0 128.0,318.0 134.8,322.0 138.7,324.5 147.4,330.0 156.0,336.6 164.7,343.1 173.4,348.6 182.1,355.1 186.0,358.5 189.5,361.2" fill="none" stroke="#4DBBD5" stroke-width="4.3" stroke-linejoin="round" stroke-linecap="butt" />
<path d="M47.2,255.2h6.4M50.4,252.0v6.4M48.2,257.0h6.4M51.4,253.8v6.4M50.1,256.7h6.4M53.3,253.5v6.4M50.9,258.5h6.4M54.1,255.3v6.4M52.2,257.8h6.4M55.4,254.6v6.4M53.8,259.4h6.4M57.0,256.2v6.4M55.1,259.2h6.4M58.3,256.0v6.4M55.2,261.3h6.4M58.4,258.1v6.4M56.9,262.3h6.4M60.1,259.1v6.4M56.4,262.0h6.4M59.6,258.8v6.4M57.5,262.8h6.4M60.7,259.6v6.4M59.9,264.4h6.4M63.1,261.2v6.4M60.8,264.9h6.4M64.0,261.7v6.4M61.6,265.9h6.4M64.8,262.7v6.4M61.5,267.4h6.4M64.7,264.2v6.4M63.6,267.1h6.4M66.8,263.9v6.4M63.9,269.0h6.4M67.1,265.8v6.4M64.2,269.4h6.4M67.4,266.2v6.4M65.0,270.0h6.4M68.2,266.8v6.4M66.2,271.5h6.4M69.4,268.3v6.4M67.9,271.7h6.4M71.1,268.5v6.4M67.7,272.8h6.4M70.9,269.6v6.4M69.9,273.4h6.4M73.1,270.2v6.4M70.2,274.2h6.4M73.4,271.0v6.4M72.2,275.6h6.4M75.4,272.4v6.4M71.9,275.6h6.4M75.1,272.4v6.4M73.5,277.1h6.4M76.7,273.9v6.4M75.0,277.1h6.4M78.2,273.9v6.4M75.2,278.9h6.4M78.4,275.7v6.4M76.7,279.0h6.4M79.9,275.8v6.4M77.6,280.9h6.4M80.8,277.7v6.4M78.7,280.9h6.4M81.9,277.7v6.4M79.9,281.4h6.4M83.1,278.2v6.4M81.9,283.1h6.4M85.1,279.9v6.4M82.1,282.4h6.4M85.3,279.2v6.4M83.8,283.1h6.4M87.0,279.9v6.4M83.6,285.0h6.4M86.8,281.8v6.4M85.5,285.6h6.4M88.7,282.4v6.4M86.5,286.4h6.4M89.7,283.2v6.4M87.6,285.9h6.4M90.8,282.7v6.4M87.9,287.4h6.4M91.1,284.2v6.4M90.0,288.9h6.4M93.2,285.7v6.4M90.1,289.1h6.4M93.3,285.9v6.4M91.6,289.7h6.4M94.8,286.5v6.4M92.3,290.1h6.4M95.5,286.9v6.4M93.9,292.0h6.4M97.1,288.8v6.4M94.2,292.1h6.4M97.4,288.9v6.4M96.4,293.8h6.4M99.6,290.6v6.4M96.3,293.2h6.4M99.5,290.0v6.4M98.6,295.5h6.4M101.8,292.3v6.4M98.8,294.7h6.4M102.0,291.5v6.4M100.6,296.2h6.4M103.8,293.0v6.4M101.5,297.5h6.4M104.7,294.3v6.4M102.3,297.5h6.4M105.5,294.3v6.4M103.2,298.5h6.4M106.4,295.3v6.4M103.5,300.5h6.4M106.7,297.3v6.4M105.2,300.2h6.4M108.4,297.0v6.4M105.0,301.5h6.4M108.2,298.3v6.4M106.5,302.4h6.4M109.7,299.2v6.4M106.7,303.0h6.4M109.9,299.8v6.4M108.7,305.1h6.4M111.9,301.9v6.4M108.5,305.4h6.4M111.7,302.2v6.4M110.8,305.2h6.4M114.0,302.0v6.4M112.0,306.1h6.4M115.2,302.9v6.4M112.6,307.7h6.4M115.8,304.5v6.4M113.7,308.0h6.4M116.9,304.8v6.4M114.4,309.3h6.4M117.6,306.1v6.4M115.4,310.2h6.4M118.6,307.0v6.4M116.5,310.6h6.4M119.7,307.4v6.4M116.7,311.7h6.4M119.9,308.5v6.4M118.5,311.9h6.4M121.7,308.7v6.4M120.0,313.8h6.4M123.2,310.6v6.4M120.4,313.6h6.4M123.6,310.4v6.4M121.4,314.3h6.4M124.6,311.1v6.4M121.8,315.7h6.4M125.0,312.5v6.4M122.7,316.6h6.4M125.9,313.4v6.4M124.4,316.8h6.4M127.6,313.6v6.4M125.7,317.6h6.4M128.9,314.4v6.4M127.0,319.5h6.4M130.2,316.3v6.4M127.7,318.9h6.4M130.9,315.7v6.4M128.8,320.1h6.4M132.0,316.9v6.4M130.7,320.3h6.4M133.9,317.1v6.4M131.7,322.6h6.4M134.9,319.4v6.4M132.5,322.9h6.4M135.7,319.7v6.4M132.7,323.9h6.4M135.9,320.7v6.4M134.3,324.6h6.4M137.5,321.4v6.4M136.2,323.8h6.4M139.4,320.6v6.4M137.0,325.9h6.4M140.2,322.7v6.4M136.8,325.6h6.4M140.0,322.4v6.4M139.2,325.9h6.4M142.4,322.7v6.4M140.5,326.8h6.4M143.7,323.6v6.4M141.5,327.3h6.4M144.7,324.1v6.4M142.0,329.4h6.4M145.2,326.2v6.4M142.6,328.9h6.4M145.8,325.7v6.4M144.2,329.7h6.4M147.4,326.5v6.4M144.4,330.2h6.4M147.6,327.0v6.4M145.7,332.4h6.4M148.9,329.2v6.4M147.6,333.1h6.4M150.8,329.9v6.4M147.7,333.7h6.4M150.9,330.5v6.4M148.7,334.0h6.4M151.9,330.8v6.4M150.6,334.5h6.4M153.8,331.3v6.4M152.1,335.6h6.4M155.3,332.4v6.4M152.6,337.0h6.4M155.8,333.8v6.4M152.8,338.0h6.4M156.0,334.8v6.4M154.8,337.7h6.4M158.0,334.5v6.4M156.1,338.2h6.4M159.3,335.0v6.4M157.5,339.6h6.4M160.7,336.4v6.4M157.4,340.7h6.4M160.6,337.5v6.4M158.6,340.4h6.4M161.8,337.2v6.4M160.2,341.0h6.4M163.4,337.8v6.4M161.4,342.1h6.4M164.6,338.9v6.4M162.1,344.2h6.4M165.3,341.0v6.4M163.1,344.3h6.4M166.3,341.1v6.4M163.7,343.8h6.4M166.9,340.6v6.4M164.3,344.8h6.4M167.5,341.6v6.4M166.4,346.0h6.4M169.6,342.8v6.4M167.4,347.5h6.4M170.6,344.3v6.4M167.8,347.0h6.4M171.0,343.8v6.4M169.8,347.3h6.4M173.0,344.1v6.4M169.7,348.6h6.4M172.9,345.4v6.4M170.9,349.4h6.4M174.1,346.2v6.4M172.2,350.6h6.4M175.4,347.4v6.4M173.9,350.7h6.4M177.1,347.5v6.4M175.0,352.0h6.4M178.2,348.8v6.4M175.2,353.6h6.4M178.4,350.4v6.4M176.4,352.9h6.4M179.6,349.7v6.4M177.2,354.6h6.4M180.4,351.4v6.4M179.6,355.6h6.4M182.8,352.4v6.4M179.7,355.6h6.4M182.9,352.4v6.4M180.0,357.1h6.4M183.2,353.9v6.4M182.0,357.4h6.4M185.2,354.2v6.4M183.1,358.4h6.4M186.3,355.2v6.4M184.7,359.8h6.4M187.9,356.6v6.4M184.5,360.9h6.4M187.7,357.7v6.4M185.1,361.0h6.4M188.3,357.8v6.4" stroke="#4DBBD5" stroke-width="1.3" fill="none"/>
<polyline points="189.5,361.2 191.0,364.0 192.0,368.4 216.2,368.4 216.2,377.5 218.4,377.5 218.4,386.0" fill="none" stroke="#4DBBD5" stroke-width="1.15" stroke-linejoin="round" stroke-linecap="butt" />
<path d="M183.6,358.0H188.4M186.0,355.6V360.4" stroke="#4DBBD5" stroke-width="1.1" fill="none"/>
<path d="M185.6,360.0H190.4M188.0,357.6V362.4" stroke="#4DBBD5" stroke-width="1.1" fill="none"/>
<path d="M187.1,363.0H191.9M189.5,360.6V365.4" stroke="#4DBBD5" stroke-width="1.1" fill="none"/>
<path d="M188.6,365.0H193.4M191.0,362.6V367.4" stroke="#4DBBD5" stroke-width="1.1" fill="none"/>
<path d="M192.3,368.4H197.1M194.7,366.0V370.8" stroke="#4DBBD5" stroke-width="1.1" fill="none"/>
<path d="M198.8,368.4H203.6M201.2,366.0V370.8" stroke="#4DBBD5" stroke-width="1.1" fill="none"/>
<path d="M201.4,368.4H206.2M203.8,366.0V370.8" stroke="#4DBBD5" stroke-width="1.1" fill="none"/>
<path d="M204.6,368.4H209.4M207.0,366.0V370.8" stroke="#4DBBD5" stroke-width="1.1" fill="none"/>
<polyline points="50.9,255.7 57.7,258.8 63.6,266.0 67.5,272.5 71.4,280.0 77.2,286.5 85.0,292.0 92.9,300.3 100.7,307.2 108.5,313.3 116.3,319.1 124.1,324.2 131.9,329.5 138.7,334.4 147.4,341.0 156.0,347.3 164.7,351.8 173.4,356.5 181.7,358.5" fill="none" stroke="#E64B35" stroke-width="4.3" stroke-linejoin="round" stroke-linecap="butt" />
<path d="M47.5,255.2h6.4M50.7,252.0v6.4M48.1,256.7h6.4M51.3,253.5v6.4M49.2,256.9h6.4M52.4,253.7v6.4M52.0,256.7h6.4M55.2,253.5v6.4M51.9,258.1h6.4M55.1,254.9v6.4M53.6,258.7h6.4M56.8,255.5v6.4M55.3,258.5h6.4M58.5,255.3v6.4M55.2,259.7h6.4M58.4,256.5v6.4M55.5,261.8h6.4M58.7,258.6v6.4M57.7,262.5h6.4M60.9,259.3v6.4M57.1,263.7h6.4M60.3,260.5v6.4M59.3,264.0h6.4M62.5,260.8v6.4M60.1,265.0h6.4M63.3,261.8v6.4M60.0,265.4h6.4M63.2,262.2v6.4M60.6,266.4h6.4M63.8,263.2v6.4M61.5,268.8h6.4M64.7,265.6v6.4M62.8,270.1h6.4M66.0,266.9v6.4M63.5,270.1h6.4M66.7,266.9v6.4M63.9,271.6h6.4M67.1,268.4v6.4M65.0,272.8h6.4M68.2,269.6v6.4M64.6,274.2h6.4M67.8,271.0v6.4M66.5,274.6h6.4M69.7,271.4v6.4M66.9,275.4h6.4M70.1,272.2v6.4M66.4,276.9h6.4M69.6,273.7v6.4M67.9,279.4h6.4M71.1,276.2v6.4M68.5,279.4h6.4M71.7,276.2v6.4M69.5,280.4h6.4M72.7,277.2v6.4M69.3,282.4h6.4M72.5,279.2v6.4M70.8,283.0h6.4M74.0,279.8v6.4M71.7,284.5h6.4M74.9,281.3v6.4M72.3,285.2h6.4M75.5,282.0v6.4M73.5,286.2h6.4M76.7,283.0v6.4M73.9,286.9h6.4M77.1,283.7v6.4M75.2,286.9h6.4M78.4,283.7v6.4M75.7,288.3h6.4M78.9,285.1v6.4M76.5,289.5h6.4M79.7,286.3v6.4M77.7,288.7h6.4M80.9,285.5v6.4M78.7,291.1h6.4M81.9,287.9v6.4M80.2,290.4h6.4M83.4,287.2v6.4M80.6,291.0h6.4M83.8,287.8v6.4M82.8,292.9h6.4M86.0,289.7v6.4M83.7,294.0h6.4M86.9,290.8v6.4M83.5,294.7h6.4M86.7,291.5v6.4M84.9,296.1h6.4M88.1,292.9v6.4M86.6,297.1h6.4M89.8,293.9v6.4M86.1,298.0h6.4M89.3,294.8v6.4M88.6,299.1h6.4M91.8,295.9v6.4M88.0,298.7h6.4M91.2,295.5v6.4M88.9,299.4h6.4M92.1,296.2v6.4M91.2,301.6h6.4M94.4,298.4v6.4M91.8,302.5h6.4M95.0,299.3v6.4M92.8,302.4h6.4M96.0,299.2v6.4M92.8,302.9h6.4M96.0,299.7v6.4M94.9,304.0h6.4M98.1,300.8v6.4M95.1,305.2h6.4M98.3,302.0v6.4M95.6,305.8h6.4M98.8,302.6v6.4M97.0,307.5h6.4M100.2,304.3v6.4M98.2,307.6h6.4M101.4,304.4v6.4M100.3,308.7h6.4M103.5,305.5v6.4M101.1,309.7h6.4M104.3,306.5v6.4M100.6,310.2h6.4M103.8,307.0v6.4M102.4,311.6h6.4M105.6,308.4v6.4M103.3,312.3h6.4M106.5,309.1v6.4M104.6,312.2h6.4M107.8,309.0v6.4M106.2,312.8h6.4M109.4,309.6v6.4M107.2,313.7h6.4M110.4,310.5v6.4M106.8,314.5h6.4M110.0,311.3v6.4M109.2,316.7h6.4M112.4,313.5v6.4M108.9,316.6h6.4M112.1,313.4v6.4M110.8,317.9h6.4M114.0,314.7v6.4M111.3,318.2h6.4M114.5,315.0v6.4M112.6,319.5h6.4M115.8,316.3v6.4M113.5,320.5h6.4M116.7,317.3v6.4M114.7,319.9h6.4M117.9,316.7v6.4M116.5,321.1h6.4M119.7,317.9v6.4M116.5,322.0h6.4M119.7,318.8v6.4M117.6,323.0h6.4M120.8,319.8v6.4M119.8,323.7h6.4M123.0,320.5v6.4M120.7,323.7h6.4M123.9,320.5v6.4M121.4,324.5h6.4M124.6,321.3v6.4M123.4,324.6h6.4M126.6,321.4v6.4M124.4,325.3h6.4M127.6,322.1v6.4M124.3,326.4h6.4M127.5,323.2v6.4M126.6,327.6h6.4M129.8,324.4v6.4M126.7,329.0h6.4M129.9,325.8v6.4M127.5,329.0h6.4M130.7,325.8v6.4M129.1,330.2h6.4M132.3,327.0v6.4M130.6,330.8h6.4M133.8,327.6v6.4M130.9,331.0h6.4M134.1,327.8v6.4M131.6,332.7h6.4M134.8,329.5v6.4M133.6,333.3h6.4M136.8,330.1v6.4M133.8,333.5h6.4M137.0,330.3v6.4M135.9,334.5h6.4M139.1,331.3v6.4M135.8,335.1h6.4M139.0,331.9v6.4M138.2,335.4h6.4M141.4,332.2v6.4M138.0,336.3h6.4M141.2,333.1v6.4M139.9,338.1h6.4M143.1,334.9v6.4M140.0,337.7h6.4M143.2,334.5v6.4M141.2,338.7h6.4M144.4,335.5v6.4M142.7,339.2h6.4M145.9,336.0v6.4M143.4,340.1h6.4M146.6,336.9v6.4M145.6,341.8h6.4M148.8,338.6v6.4M145.1,343.0h6.4M148.3,339.8v6.4M146.1,342.7h6.4M149.3,339.5v6.4M148.8,344.2h6.4M152.0,341.0v6.4M149.4,344.4h6.4M152.6,341.2v6.4M149.4,345.5h6.4M152.6,342.3v6.4M150.3,345.5h6.4M153.5,342.3v6.4M151.9,345.9h6.4M155.1,342.7v6.4M153.0,348.0h6.4M156.2,344.8v6.4M154.7,348.1h6.4M157.9,344.9v6.4M155.7,348.6h6.4M158.9,345.4v6.4M156.0,349.5h6.4M159.2,346.3v6.4M157.6,350.3h6.4M160.8,347.1v6.4M159.7,350.4h6.4M162.9,347.2v6.4M160.2,351.5h6.4M163.4,348.3v6.4M161.1,351.2h6.4M164.3,348.0v6.4M162.8,353.0h6.4M166.0,349.8v6.4M164.0,353.3h6.4M167.2,350.1v6.4M165.3,353.8h6.4M168.5,350.6v6.4M166.1,354.1h6.4M169.3,350.9v6.4M166.6,355.0h6.4M169.8,351.8v6.4M167.4,355.2h6.4M170.6,352.0v6.4M169.8,356.4h6.4M173.0,353.2v6.4M170.7,356.1h6.4M173.9,352.9v6.4M171.6,356.8h6.4M174.8,353.6v6.4M173.2,357.0h6.4M176.4,353.8v6.4M174.5,358.2h6.4M177.7,355.0v6.4M174.9,358.1h6.4M178.1,354.9v6.4M177.3,357.9h6.4M180.5,354.7v6.4M178.0,359.2h6.4M181.2,356.0v6.4" stroke="#E64B35" stroke-width="1.3" fill="none"/>
<polyline points="181.7,358.5 183.0,362.0 184.0,366.1 209.2,366.1 209.2,379.4" fill="none" stroke="#E64B35" stroke-width="1.15" stroke-linejoin="round" stroke-linecap="butt" />
<path d="M180.6,360.0H185.4M183.0,357.6V362.4" stroke="#E64B35" stroke-width="1.1" fill="none"/>
<path d="M182.1,364.0H186.9M184.5,361.6V366.4" stroke="#E64B35" stroke-width="1.1" fill="none"/>
<path d="M184.1,366.1H188.9M186.5,363.7V368.5" stroke="#E64B35" stroke-width="1.1" fill="none"/>
<path d="M188.6,366.1H193.4M191.0,363.7V368.5" stroke="#E64B35" stroke-width="1.1" fill="none"/>
<path d="M207.4,379.0H212.2M209.8,376.6V381.4" stroke="#E64B35" stroke-width="1.1" fill="none"/>
<polygon points="281.9,254.7 283.9,256.2 285.9,257.7 287.9,259.2 289.9,260.7 291.9,262.7 293.9,264.7 295.9,266.7 297.9,269.1 299.9,273.1 301.9,276.8 303.9,279.5 305.9,282.2 307.9,284.5 309.9,286.3 311.9,288.1 313.9,289.8 315.9,291.7 317.9,293.7 319.9,295.6 321.9,297.6 323.9,299.7 325.9,302.0 327.9,304.2 329.9,306.5 331.9,308.1 333.9,309.3 335.9,310.5 337.9,311.7 339.9,312.9 341.9,314.1 343.9,315.3 345.9,316.5 347.9,317.6 349.9,318.7 351.9,319.8 353.9,320.9 355.9,322.6 357.9,324.4 359.9,326.2 361.9,327.6 363.9,328.9 365.9,330.3 367.9,331.7 369.9,333.0 371.9,334.2 373.9,335.5 375.9,336.7 377.9,338.0 379.9,339.2 381.9,340.4 383.9,341.6 385.9,342.8 387.9,343.7 389.9,344.6 391.9,345.6 393.9,346.5 395.9,347.4 397.9,348.4 399.9,349.3 401.9,350.3 403.9,351.2 405.9,351.9 407.9,352.5 409.9,353.2 411.9,353.9 413.9,355.4 415.9,356.8 416.9,357.6 418.0,362.0 444.2,362.0 444.2,360.6 454.0,360.6 454.0,380.7 444.2,380.7 444.2,377.5 418.0,377.5 416.9,362.2 415.9,361.4 413.9,359.8 411.9,358.2 409.9,357.4 407.9,356.6 405.9,355.8 403.9,355.0 401.9,354.0 399.9,352.9 397.9,351.9 395.9,350.8 393.9,349.7 391.9,348.7 389.9,347.6 387.9,346.6 385.9,345.5 383.9,344.2 381.9,342.9 379.9,341.6 377.9,340.4 375.9,339.1 373.9,337.9 371.9,336.6 369.9,335.4 367.9,334.1 365.9,332.7 363.9,331.3 361.9,330.0 359.9,328.6 357.9,326.8 355.9,325.0 353.9,323.3 351.9,322.2 349.9,321.1 347.9,320.0 345.9,318.9 343.9,317.7 341.9,316.5 339.9,315.3 337.9,314.1 335.9,312.9 333.9,311.7 331.9,310.5 329.9,308.9 327.9,306.6 325.9,304.4 323.9,302.1 321.9,300.0 319.9,298.0 317.9,296.1 315.9,294.1 313.9,292.2 311.9,290.5 309.9,288.7 307.9,286.9 305.9,284.6 303.9,281.9 301.9,279.2 299.9,275.5 297.9,271.5 295.9,269.1 293.9,267.1 291.9,265.1 289.9,263.1 287.9,261.6 285.9,260.1 283.9,258.6 281.9,257.1" fill="#4DBBD5" fill-opacity="0.2" stroke="none"/>
<polygon points="281.9,254.7 283.9,256.0 285.9,257.3 287.9,258.6 289.9,260.0 291.9,262.3 293.9,264.5 295.9,266.8 297.9,269.0 299.9,270.9 301.9,272.8 303.9,274.7 305.9,276.5 307.9,278.0 309.9,279.5 311.9,281.1 313.9,282.5 315.9,283.8 317.9,285.1 319.9,286.4 321.9,287.6 323.9,288.7 325.9,289.8 327.9,290.9 329.9,292.1 331.9,293.5 333.9,294.8 335.9,296.2 337.9,297.8 339.9,299.6 341.9,301.4 343.9,303.1 345.9,304.5 347.9,305.7 349.9,306.9 351.9,308.2 353.9,309.7 355.9,311.2 357.9,312.7 359.9,314.2 361.9,315.8 363.9,317.4 365.9,319.0 367.9,320.7 369.9,322.2 371.9,323.7 373.9,325.2 375.9,326.7 377.9,328.2 379.9,329.4 381.9,330.6 383.9,331.8 385.9,333.0 387.9,334.2 389.9,335.4 391.9,336.6 393.9,337.8 395.9,339.1 397.9,340.6 399.9,342.0 401.9,343.4 403.9,344.9 405.9,346.3 407.9,347.8 409.9,349.2 411.9,350.7 413.9,352.2 415.9,353.6 416.9,354.4 418.0,350.0 444.9,350.0 444.9,373.0 418.0,373.0 416.9,359.0 415.9,358.2 413.9,356.6 411.9,355.0 409.9,353.4 407.9,351.8 405.9,350.3 403.9,348.7 401.9,347.1 399.9,345.6 397.9,344.0 395.9,342.5 393.9,341.0 391.9,339.7 389.9,338.4 387.9,337.0 385.9,335.7 383.9,334.4 381.9,333.1 379.9,331.8 377.9,330.6 375.9,329.1 373.9,327.6 371.9,326.1 369.9,324.6 367.9,323.1 365.9,321.4 363.9,319.8 361.9,318.2 359.9,316.6 357.9,315.1 355.9,313.6 353.9,312.1 351.9,310.6 349.9,309.3 347.9,308.1 345.9,306.9 343.9,305.5 341.9,303.8 339.9,302.0 337.9,300.2 335.9,298.6 333.9,297.2 331.9,295.9 329.9,294.5 327.9,293.3 325.9,292.2 323.9,291.1 321.9,290.0 319.9,288.8 317.9,287.5 315.9,286.2 313.9,284.9 311.9,283.5 309.9,281.9 307.9,280.4 305.9,278.9 303.9,277.1 301.9,275.2 299.9,273.3 297.9,271.4 295.9,269.2 293.9,266.9 291.9,264.7 289.9,262.4 287.9,261.0 285.9,259.7 283.9,258.4 281.9,257.1" fill="#E64B35" fill-opacity="0.2" stroke="none"/>
<polyline points="281.9,255.9 289.7,261.7 297.5,269.5 301.4,277.3 307.2,285.1 315.0,292.0 322.9,299.8 330.7,308.6 338.5,313.3 346.3,317.9 354.1,322.2 360.0,327.5 368.7,333.4 377.3,338.8 386.0,344.2 394.7,348.5 403.4,352.9 412.0,356.1 416.9,359.9" fill="none" stroke="#4DBBD5" stroke-width="4.3" stroke-linejoin="round" stroke-linecap="butt" />
<path d="M277.9,256.0h6.4M281.1,252.8v6.4M279.1,257.2h6.4M282.3,254.0v6.4M281.6,257.5h6.4M284.8,254.3v6.4M281.1,258.4h6.4M284.3,255.2v6.4M282.9,259.4h6.4M286.1,256.2v6.4M283.9,260.0h6.4M287.1,256.8v6.4M285.6,260.6h6.4M288.8,257.4v6.4M285.8,262.1h6.4M289.0,258.9v6.4M286.5,262.5h6.4M289.7,259.3v6.4M287.7,263.6h6.4M290.9,260.4v6.4M288.1,264.9h6.4M291.3,261.7v6.4M289.5,264.1h6.4M292.7,260.9v6.4M290.3,265.7h6.4M293.5,262.5v6.4M290.7,266.6h6.4M293.9,263.4v6.4M292.4,268.1h6.4M295.6,264.9v6.4M293.1,268.2h6.4M296.3,265.0v6.4M293.8,270.0h6.4M297.0,266.8v6.4M295.7,270.8h6.4M298.9,267.6v6.4M295.0,272.4h6.4M298.2,269.2v6.4M295.9,272.5h6.4M299.1,269.3v6.4M296.0,274.7h6.4M299.2,271.5v6.4M297.8,275.6h6.4M301.0,272.4v6.4M297.8,276.6h6.4M301.0,273.4v6.4M298.0,278.5h6.4M301.2,275.3v6.4M299.0,278.9h6.4M302.2,275.7v6.4M300.6,280.3h6.4M303.8,277.1v6.4M300.7,280.4h6.4M303.9,277.2v6.4M301.6,281.1h6.4M304.8,277.9v6.4M302.9,282.6h6.4M306.1,279.4v6.4M303.7,283.5h6.4M306.9,280.3v6.4M303.7,284.5h6.4M306.9,281.3v6.4M304.7,285.3h6.4M307.9,282.1v6.4M304.9,287.1h6.4M308.1,283.9v6.4M306.4,287.1h6.4M309.6,283.9v6.4M307.4,288.4h6.4M310.6,285.2v6.4M308.6,289.5h6.4M311.8,286.3v6.4M310.0,289.9h6.4M313.2,286.7v6.4M311.4,291.6h6.4M314.6,288.4v6.4M310.8,292.5h6.4M314.0,289.3v6.4M313.3,293.3h6.4M316.5,290.1v6.4M312.9,294.3h6.4M316.1,291.1v6.4M314.7,293.7h6.4M317.9,290.5v6.4M314.5,296.3h6.4M317.7,293.1v6.4M316.6,296.0h6.4M319.8,292.8v6.4M316.5,296.7h6.4M319.7,293.5v6.4M317.6,298.7h6.4M320.8,295.5v6.4M318.8,298.5h6.4M322.0,295.3v6.4M320.7,300.6h6.4M323.9,297.4v6.4M320.2,301.8h6.4M323.4,298.6v6.4M321.9,302.5h6.4M325.1,299.3v6.4M322.9,303.7h6.4M326.1,300.5v6.4M323.9,304.6h6.4M327.1,301.4v6.4M323.7,305.3h6.4M326.9,302.1v6.4M325.2,306.4h6.4M328.4,303.2v6.4M325.9,307.6h6.4M329.1,304.4v6.4M327.0,307.5h6.4M330.2,304.3v6.4M327.3,308.1h6.4M330.5,304.9v6.4M328.9,308.6h6.4M332.1,305.4v6.4M330.0,309.5h6.4M333.2,306.3v6.4M331.1,310.8h6.4M334.3,307.6v6.4M332.3,312.1h6.4M335.5,308.9v6.4M332.5,312.7h6.4M335.7,309.5v6.4M334.4,312.9h6.4M337.6,309.7v6.4M335.9,314.1h6.4M339.1,310.9v6.4M336.5,314.0h6.4M339.7,310.8v6.4M338.7,314.0h6.4M341.9,310.8v6.4M339.2,315.7h6.4M342.4,312.5v6.4M339.2,316.3h6.4M342.4,313.1v6.4M341.5,317.5h6.4M344.7,314.3v6.4M342.0,318.3h6.4M345.2,315.1v6.4M343.4,318.1h6.4M346.6,314.9v6.4M345.3,317.9h6.4M348.5,314.7v6.4M346.1,319.6h6.4M349.3,316.4v6.4M346.6,320.6h6.4M349.8,317.4v6.4M347.7,320.5h6.4M350.9,317.3v6.4M349.2,321.7h6.4M352.4,318.5v6.4M349.7,321.7h6.4M352.9,318.5v6.4M351.2,322.7h6.4M354.4,319.5v6.4M352.9,323.1h6.4M356.1,319.9v6.4M353.8,324.1h6.4M357.0,320.9v6.4M354.2,324.8h6.4M357.4,321.6v6.4M355.2,326.9h6.4M358.4,323.7v6.4M356.4,327.4h6.4M359.6,324.2v6.4M356.9,327.4h6.4M360.1,324.2v6.4M357.9,328.6h6.4M361.1,325.4v6.4M359.6,329.7h6.4M362.8,326.5v6.4M359.6,330.3h6.4M362.8,327.1v6.4M362.2,330.7h6.4M365.4,327.5v6.4M361.7,331.0h6.4M364.9,327.8v6.4M362.7,331.6h6.4M365.9,328.4v6.4M365.4,333.0h6.4M368.6,329.8v6.4M366.1,334.1h6.4M369.3,330.9v6.4M367.6,334.5h6.4M370.8,331.3v6.4M368.2,335.2h6.4M371.4,332.0v6.4M369.4,335.8h6.4M372.6,332.6v6.4M370.5,335.8h6.4M373.7,332.6v6.4M371.6,337.0h6.4M374.8,333.8v6.4M372.9,337.0h6.4M376.1,333.8v6.4M372.9,337.6h6.4M376.1,334.4v6.4M375.1,339.8h6.4M378.3,336.6v6.4M376.0,339.5h6.4M379.2,336.3v6.4M377.4,341.0h6.4M380.6,337.8v6.4M378.0,340.7h6.4M381.2,337.5v6.4M378.6,341.7h6.4M381.8,338.5v6.4M379.8,342.4h6.4M383.0,339.2v6.4M381.5,344.0h6.4M384.7,340.8v6.4M381.5,344.0h6.4M384.7,340.8v6.4M382.6,343.8h6.4M385.8,340.6v6.4M385.2,345.2h6.4M388.4,342.0v6.4M386.5,345.6h6.4M389.7,342.4v6.4M386.1,346.0h6.4M389.3,342.8v6.4M388.3,347.6h6.4M391.5,344.4v6.4M390.1,347.4h6.4M393.3,344.2v6.4M390.3,347.3h6.4M393.5,344.1v6.4M391.9,348.0h6.4M395.1,344.8v6.4M392.1,348.3h6.4M395.3,345.1v6.4M393.0,350.1h6.4M396.2,346.9v6.4M394.4,351.2h6.4M397.6,348.0v6.4M395.5,351.6h6.4M398.7,348.4v6.4M396.7,350.6h6.4M399.9,347.4v6.4M399.0,351.6h6.4M402.2,348.4v6.4M400.2,352.1h6.4M403.4,348.9v6.4M400.1,353.7h6.4M403.3,350.5v6.4M402.5,354.3h6.4M405.7,351.1v6.4M403.8,353.3h6.4M407.0,350.1v6.4M404.8,354.9h6.4M408.0,351.7v6.4M405.7,355.8h6.4M408.9,352.6v6.4M406.6,356.3h6.4M409.8,353.1v6.4M408.6,355.0h6.4M411.8,351.8v6.4M408.5,356.8h6.4M411.7,353.6v6.4M410.9,356.6h6.4M414.1,353.4v6.4M411.1,358.5h6.4M414.3,355.3v6.4M411.8,359.6h6.4M415.0,356.4v6.4M413.4,358.9h6.4M416.6,355.7v6.4" stroke="#4DBBD5" stroke-width="1.3" fill="none"/>
<polyline points="416.9,359.9 418.9,362.5 422.8,367.7 426.7,371.6 444.2,371.6 444.2,375.5 452.7,375.5 452.7,384.6" fill="none" stroke="#4DBBD5" stroke-width="1.15" stroke-linejoin="round" stroke-linecap="butt" />
<path d="M416.6,363.0H421.4M419.0,360.6V365.4" stroke="#4DBBD5" stroke-width="1.1" fill="none"/>
<path d="M418.6,366.0H423.4M421.0,363.6V368.4" stroke="#4DBBD5" stroke-width="1.1" fill="none"/>
<path d="M422.1,369.0H426.9M424.5,366.6V371.4" stroke="#4DBBD5" stroke-width="1.1" fill="none"/>
<path d="M425.6,371.6H430.4M428.0,369.2V374.0" stroke="#4DBBD5" stroke-width="1.1" fill="none"/>
<path d="M428.1,371.6H432.9M430.5,369.2V374.0" stroke="#4DBBD5" stroke-width="1.1" fill="none"/>
<polyline points="281.9,255.9 289.7,261.0 297.5,269.8 305.3,277.2 313.1,283.2 320.9,288.2 328.7,292.5 336.5,297.8 344.3,304.7 352.1,309.5 360.0,315.5 368.7,322.5 377.3,329.0 386.0,334.4 394.7,339.9 403.4,346.4 412.0,352.9 416.9,356.7" fill="none" stroke="#E64B35" stroke-width="4.3" stroke-linejoin="round" stroke-linecap="butt" />
<path d="M278.5,256.0h6.4M281.7,252.8v6.4M279.7,256.9h6.4M282.9,253.7v6.4M280.2,257.9h6.4M283.4,254.7v6.4M281.7,258.3h6.4M284.9,255.1v6.4M283.3,258.6h6.4M286.5,255.4v6.4M283.9,260.0h6.4M287.1,256.8v6.4M286.0,260.7h6.4M289.2,257.5v6.4M286.4,260.5h6.4M289.6,257.3v6.4M286.4,262.7h6.4M289.6,259.5v6.4M288.4,263.4h6.4M291.6,260.2v6.4M288.6,263.9h6.4M291.8,260.7v6.4M290.7,265.3h6.4M293.9,262.1v6.4M290.8,265.4h6.4M294.0,262.2v6.4M291.4,267.4h6.4M294.6,264.2v6.4M292.2,268.0h6.4M295.4,264.8v6.4M293.4,269.3h6.4M296.6,266.1v6.4M294.7,269.2h6.4M297.9,266.0v6.4M294.1,270.1h6.4M297.3,266.9v6.4M295.8,271.6h6.4M299.0,268.4v6.4M297.5,273.0h6.4M300.7,269.8v6.4M297.0,273.8h6.4M300.2,270.6v6.4M299.4,274.7h6.4M302.6,271.5v6.4M299.9,274.6h6.4M303.1,271.4v6.4M301.3,276.4h6.4M304.5,273.2v6.4M302.0,277.5h6.4M305.2,274.3v6.4M302.4,276.9h6.4M305.6,273.7v6.4M303.8,278.9h6.4M307.0,275.7v6.4M304.2,279.6h6.4M307.4,276.4v6.4M306.5,279.5h6.4M309.7,276.3v6.4M306.9,281.1h6.4M310.1,277.9v6.4M307.7,281.0h6.4M310.9,277.8v6.4M308.4,282.8h6.4M311.6,279.6v6.4M310.4,283.1h6.4M313.6,279.9v6.4M310.2,284.4h6.4M313.4,281.2v6.4M312.5,284.1h6.4M315.7,280.9v6.4M313.3,286.0h6.4M316.5,282.8v6.4M314.9,286.0h6.4M318.1,282.8v6.4M315.3,286.8h6.4M318.5,283.6v6.4M315.8,286.8h6.4M319.0,283.6v6.4M316.9,288.4h6.4M320.1,285.2v6.4M318.4,288.8h6.4M321.6,285.6v6.4M319.6,289.4h6.4M322.8,286.2v6.4M320.3,289.1h6.4M323.5,285.9v6.4M322.9,290.4h6.4M326.1,287.2v6.4M322.5,291.5h6.4M325.7,288.3v6.4M324.8,291.2h6.4M328.0,288.0v6.4M325.6,292.2h6.4M328.8,289.0v6.4M326.6,292.3h6.4M329.8,289.1v6.4M326.8,294.8h6.4M330.0,291.6v6.4M329.3,294.6h6.4M332.5,291.4v6.4M329.9,295.0h6.4M333.1,291.8v6.4M331.3,296.0h6.4M334.5,292.8v6.4M332.7,297.3h6.4M335.9,294.1v6.4M333.6,298.4h6.4M336.8,295.2v6.4M333.6,297.6h6.4M336.8,294.4v6.4M334.4,298.7h6.4M337.6,295.5v6.4M335.2,299.3h6.4M338.4,296.1v6.4M337.0,301.7h6.4M340.2,298.5v6.4M337.8,302.7h6.4M341.0,299.5v6.4M339.6,301.9h6.4M342.8,298.7v6.4M340.0,303.4h6.4M343.2,300.2v6.4M340.1,305.3h6.4M343.3,302.1v6.4M341.4,305.3h6.4M344.6,302.1v6.4M343.2,306.7h6.4M346.4,303.5v6.4M344.4,306.3h6.4M347.6,303.1v6.4M345.1,306.6h6.4M348.3,303.4v6.4M347.1,308.8h6.4M350.3,305.6v6.4M346.9,307.8h6.4M350.1,304.6v6.4M348.1,309.0h6.4M351.3,305.8v6.4M350.3,310.7h6.4M353.5,307.5v6.4M351.2,310.0h6.4M354.4,306.8v6.4M352.2,312.0h6.4M355.4,308.8v6.4M353.0,313.2h6.4M356.2,310.0v6.4M352.9,312.5h6.4M356.1,309.3v6.4M355.2,314.7h6.4M358.4,311.5v6.4M356.1,314.4h6.4M359.3,311.2v6.4M357.0,316.0h6.4M360.2,312.8v6.4M357.1,316.0h6.4M360.3,312.8v6.4M358.4,316.5h6.4M361.6,313.3v6.4M359.8,317.4h6.4M363.0,314.2v6.4M360.4,318.1h6.4M363.6,314.9v6.4M362.2,318.7h6.4M365.4,315.5v6.4M363.3,319.9h6.4M366.5,316.7v6.4M363.1,322.0h6.4M366.3,318.8v6.4M364.4,322.8h6.4M367.6,319.6v6.4M366.6,323.5h6.4M369.8,320.3v6.4M366.3,323.5h6.4M369.5,320.3v6.4M367.3,325.2h6.4M370.5,322.0v6.4M369.7,325.4h6.4M372.9,322.2v6.4M370.0,325.7h6.4M373.2,322.5v6.4M371.7,326.7h6.4M374.9,323.5v6.4M372.4,326.9h6.4M375.6,323.7v6.4M372.7,327.5h6.4M375.9,324.3v6.4M374.6,329.2h6.4M377.8,326.0v6.4M374.7,330.5h6.4M377.9,327.3v6.4M376.0,330.3h6.4M379.2,327.1v6.4M377.0,330.7h6.4M380.2,327.5v6.4M379.3,331.5h6.4M382.5,328.3v6.4M379.2,332.5h6.4M382.4,329.3v6.4M380.6,333.9h6.4M383.8,330.7v6.4M381.3,334.8h6.4M384.5,331.6v6.4M382.3,335.3h6.4M385.5,332.1v6.4M384.5,334.8h6.4M387.7,331.6v6.4M385.3,335.6h6.4M388.5,332.4v6.4M386.0,336.1h6.4M389.2,332.9v6.4M387.2,338.2h6.4M390.4,335.0v6.4M389.5,338.8h6.4M392.7,335.6v6.4M389.0,338.4h6.4M392.2,335.2v6.4M391.5,338.7h6.4M394.7,335.5v6.4M392.3,339.8h6.4M395.5,336.6v6.4M393.8,340.1h6.4M397.0,336.9v6.4M394.5,341.4h6.4M397.7,338.2v6.4M394.3,341.6h6.4M397.5,338.4v6.4M396.6,343.3h6.4M399.8,340.1v6.4M396.5,343.9h6.4M399.7,340.7v6.4M398.9,344.3h6.4M402.1,341.1v6.4M399.3,345.0h6.4M402.5,341.8v6.4M399.6,346.9h6.4M402.8,343.7v6.4M401.6,346.6h6.4M404.8,343.4v6.4M401.5,347.2h6.4M404.7,344.0v6.4M403.5,348.7h6.4M406.7,345.5v6.4M403.9,349.0h6.4M407.1,345.8v6.4M405.6,350.7h6.4M408.8,347.5v6.4M407.0,351.2h6.4M410.2,348.0v6.4M406.9,351.1h6.4M410.1,347.9v6.4M408.9,352.5h6.4M412.1,349.3v6.4M409.9,352.7h6.4M413.1,349.5v6.4M411.1,354.0h6.4M414.3,350.8v6.4M412.2,355.7h6.4M415.4,352.5v6.4M412.6,355.0h6.4M415.8,351.8v6.4M414.4,356.6h6.4M417.6,353.4v6.4" stroke="#E64B35" stroke-width="1.3" fill="none"/>
<polyline points="416.9,356.7 420.0,358.0 425.0,359.3 427.3,359.3 427.3,365.1 444.4,365.1 444.4,385.3" fill="none" stroke="#E64B35" stroke-width="1.15" stroke-linejoin="round" stroke-linecap="butt" />
<path d="M416.6,357.0H421.4M419.0,354.6V359.4" stroke="#E64B35" stroke-width="1.1" fill="none"/>
<path d="M419.1,358.5H423.9M421.5,356.1V360.9" stroke="#E64B35" stroke-width="1.1" fill="none"/>
<path d="M421.6,359.0H426.4M424.0,356.6V361.4" stroke="#E64B35" stroke-width="1.1" fill="none"/>
<path d="M424.1,362.0H428.9M426.5,359.6V364.4" stroke="#E64B35" stroke-width="1.1" fill="none"/>
<path d="M428.1,365.1H432.9M430.5,362.7V367.5" stroke="#E64B35" stroke-width="1.1" fill="none"/>
<path d="M432.1,365.1H436.9M434.5,362.7V367.5" stroke="#E64B35" stroke-width="1.1" fill="none"/>
<path d="M435.3,365.1H440.1M437.7,362.7V367.5" stroke="#E64B35" stroke-width="1.1" fill="none"/>
<path d="M436.6,365.1H441.4M439.0,362.7V367.5" stroke="#E64B35" stroke-width="1.1" fill="none"/>
<path d="M439.8,365.1H444.6M442.2,362.7V367.5" stroke="#E64B35" stroke-width="1.1" fill="none"/>
<polygon points="512.8,254.7 514.8,255.7 516.8,256.8 518.8,258.2 520.8,260.1 522.8,262.1 524.8,264.1 526.8,266.0 528.8,268.0 530.8,270.1 532.8,272.1 534.8,274.1 536.8,276.2 538.8,278.2 540.8,280.2 542.8,282.2 544.8,284.1 546.8,285.8 548.8,287.6 550.8,289.4 552.8,291.3 554.8,293.2 556.8,295.2 558.8,297.2 560.8,299.2 562.8,301.0 564.8,302.8 566.8,304.7 568.8,306.4 570.8,308.1 572.8,309.7 574.8,311.4 576.8,312.9 578.8,314.2 580.8,315.5 582.8,316.8 584.8,318.2 586.8,319.8 588.8,321.3 590.8,322.9 592.8,324.4 594.8,325.9 596.8,327.4 598.8,328.9 600.8,330.3 602.8,331.8 604.8,333.2 606.8,334.6 608.8,335.8 610.8,337.0 612.8,338.2 614.8,339.4 616.8,340.7 618.8,342.1 620.8,343.6 622.8,345.0 624.8,346.4 626.8,347.4 628.8,348.4 630.8,349.4 632.8,350.4 634.8,351.5 636.8,352.8 638.8,354.0 640.8,355.2 642.8,356.5 643.0,356.6 650.2,356.0 668.4,356.0 668.4,375.5 650.2,375.5 643.0,362.4 642.8,362.3 640.8,360.9 638.8,359.5 636.8,358.1 634.8,356.7 632.8,355.4 630.8,354.2 628.8,353.1 626.8,351.9 624.8,350.7 622.8,349.2 620.8,347.6 618.8,346.0 616.8,344.5 614.8,343.0 612.8,341.7 610.8,340.3 608.8,338.9 606.8,337.5 604.8,335.9 602.8,334.4 600.8,332.8 598.8,331.3 596.8,329.8 594.8,328.3 592.8,326.8 590.8,325.3 588.8,323.7 586.8,322.2 584.8,320.6 582.8,319.2 580.8,317.9 578.8,316.6 576.8,315.3 574.8,313.8 572.8,312.1 570.8,310.5 568.8,308.8 566.8,307.1 564.8,305.2 562.8,303.4 560.8,301.6 558.8,299.6 556.8,297.6 554.8,295.6 552.8,293.7 550.8,291.8 548.8,290.0 546.8,288.2 544.8,286.5 542.8,284.6 540.8,282.6 538.8,280.6 536.8,278.6 534.8,276.5 532.8,274.5 530.8,272.5 528.8,270.4 526.8,268.4 524.8,266.5 522.8,264.5 520.8,262.5 518.8,260.6 516.8,259.2 514.8,258.1 512.8,257.1" fill="#4DBBD5" fill-opacity="0.2" stroke="none"/>
<polygon points="512.8,254.7 514.8,256.1 516.8,257.5 518.8,259.2 520.8,261.3 522.8,263.4 524.8,265.4 526.8,267.4 528.8,269.4 530.8,271.5 532.8,273.5 534.8,275.5 536.8,277.6 538.8,279.6 540.8,281.5 542.8,283.4 544.8,285.3 546.8,286.9 548.8,288.6 550.8,290.3 552.8,292.2 554.8,294.1 556.8,295.8 558.8,297.2 560.8,298.7 562.8,300.4 564.8,302.2 566.8,303.9 568.8,305.6 570.8,307.1 572.8,308.7 574.8,310.2 576.8,311.6 578.8,312.6 580.8,313.5 582.8,314.5 584.8,315.5 586.8,316.5 588.8,317.5 590.8,318.7 592.8,320.2 594.8,321.7 596.8,323.2 598.8,324.7 600.8,326.1 602.8,327.6 604.8,329.0 606.8,330.4 608.8,331.8 610.8,333.2 612.8,334.7 614.8,336.1 616.8,337.4 618.8,338.6 620.8,339.7 622.8,340.9 624.8,342.1 626.8,343.5 628.8,344.9 630.8,346.3 632.8,347.7 634.8,349.1 636.8,350.4 638.8,351.7 640.8,353.0 642.8,354.3 643.0,354.4 652.0,358.0 668.4,358.0 668.4,359.3 679.4,359.3 679.4,380.7 668.4,380.7 668.4,373.0 652.0,373.0 643.0,360.2 642.8,360.1 640.8,358.6 638.8,357.2 636.8,355.7 634.8,354.3 632.8,352.8 630.8,351.2 628.8,349.6 626.8,348.0 624.8,346.5 622.8,345.1 620.8,343.8 618.8,342.5 616.8,341.2 614.8,339.7 612.8,338.1 610.8,336.5 608.8,334.9 606.8,333.3 604.8,331.7 602.8,330.2 600.8,328.6 598.8,327.1 596.8,325.6 594.8,324.1 592.8,322.6 590.8,321.1 588.8,319.9 586.8,318.9 584.8,317.9 582.8,316.9 580.8,315.9 578.8,314.9 576.8,313.9 574.8,312.6 572.8,311.1 570.8,309.5 568.8,308.0 566.8,306.3 564.8,304.6 562.8,302.8 560.8,301.1 558.8,299.6 556.8,298.2 554.8,296.5 552.8,294.6 550.8,292.7 548.8,291.0 546.8,289.3 544.8,287.7 542.8,285.8 540.8,283.9 538.8,282.0 536.8,280.0 534.8,277.9 532.8,275.9 530.8,273.9 528.8,271.8 526.8,269.8 524.8,267.8 522.8,265.8 520.8,263.7 518.8,261.6 516.8,259.9 514.8,258.5 512.8,257.1" fill="#E64B35" fill-opacity="0.2" stroke="none"/>
<polyline points="512.8,255.9 518.0,258.6 522.3,262.8 527.7,268.1 533.1,273.6 538.5,279.1 544.0,284.6 550.0,289.8 555.9,295.5 560.7,300.3 568.5,307.4 576.3,313.8 584.1,318.8 590.0,323.5 598.7,330.0 607.4,336.5 616.0,342.0 624.7,348.5 633.4,353.2 643.0,359.5" fill="none" stroke="#4DBBD5" stroke-width="4.3" stroke-linejoin="round" stroke-linecap="butt" />
<path d="M510.3,255.5h6.4M513.5,252.3v6.4M510.2,257.1h6.4M513.4,253.9v6.4M511.7,256.5h6.4M514.9,253.3v6.4M512.8,257.9h6.4M516.0,254.7v6.4M513.3,258.3h6.4M516.5,255.1v6.4M515.2,259.1h6.4M518.4,255.9v6.4M515.5,260.3h6.4M518.7,257.1v6.4M517.7,261.5h6.4M520.9,258.3v6.4M517.7,262.2h6.4M520.9,259.0v6.4M518.8,263.1h6.4M522.0,259.9v6.4M519.1,264.3h6.4M522.3,261.1v6.4M521.7,264.5h6.4M524.9,261.3v6.4M521.8,265.5h6.4M525.0,262.3v6.4M522.8,265.5h6.4M526.0,262.3v6.4M524.5,266.7h6.4M527.7,263.5v6.4M524.0,267.4h6.4M527.2,264.2v6.4M525.0,269.6h6.4M528.2,266.4v6.4M525.5,269.3h6.4M528.7,266.1v6.4M527.6,270.4h6.4M530.8,267.2v6.4M527.3,272.0h6.4M530.5,268.8v6.4M529.2,272.8h6.4M532.4,269.6v6.4M530.4,273.0h6.4M533.6,269.8v6.4M531.6,275.0h6.4M534.8,271.8v6.4M531.0,274.9h6.4M534.2,271.7v6.4M532.7,276.5h6.4M535.9,273.3v6.4M533.3,276.7h6.4M536.5,273.5v6.4M534.4,277.7h6.4M537.6,274.5v6.4M535.6,279.9h6.4M538.8,276.7v6.4M535.8,280.3h6.4M539.0,277.1v6.4M537.8,280.5h6.4M541.0,277.3v6.4M538.8,282.8h6.4M542.0,279.6v6.4M539.0,282.8h6.4M542.2,279.6v6.4M540.7,283.9h6.4M543.9,280.7v6.4M540.8,285.6h6.4M544.0,282.4v6.4M542.5,285.3h6.4M545.7,282.1v6.4M542.5,286.2h6.4M545.7,283.0v6.4M543.8,288.2h6.4M547.0,285.0v6.4M545.5,288.9h6.4M548.7,285.7v6.4M546.5,289.7h6.4M549.7,286.5v6.4M546.1,289.9h6.4M549.3,286.7v6.4M548.7,291.6h6.4M551.9,288.4v6.4M548.3,291.6h6.4M551.5,288.4v6.4M549.9,292.4h6.4M553.1,289.2v6.4M550.7,292.7h6.4M553.9,289.5v6.4M551.4,294.4h6.4M554.6,291.2v6.4M551.6,294.7h6.4M554.8,291.5v6.4M554.3,296.7h6.4M557.5,293.5v6.4M555.1,297.4h6.4M558.3,294.2v6.4M555.8,298.8h6.4M559.0,295.6v6.4M556.9,298.1h6.4M560.1,294.9v6.4M557.4,299.5h6.4M560.6,296.3v6.4M558.4,300.4h6.4M561.6,297.2v6.4M559.1,302.4h6.4M562.3,299.2v6.4M560.2,302.1h6.4M563.4,298.9v6.4M561.0,303.3h6.4M564.2,300.1v6.4M562.7,303.9h6.4M565.9,300.7v6.4M562.5,305.4h6.4M565.7,302.2v6.4M563.1,306.2h6.4M566.3,303.0v6.4M565.6,306.9h6.4M568.8,303.7v6.4M565.3,307.7h6.4M568.5,304.5v6.4M566.8,308.0h6.4M570.0,304.8v6.4M567.1,308.8h6.4M570.3,305.6v6.4M568.4,310.1h6.4M571.6,306.9v6.4M569.4,310.6h6.4M572.6,307.4v6.4M570.0,312.0h6.4M573.2,308.8v6.4M572.4,312.9h6.4M575.6,309.7v6.4M572.9,313.8h6.4M576.1,310.6v6.4M573.3,314.7h6.4M576.5,311.5v6.4M574.9,315.1h6.4M578.1,311.9v6.4M576.3,315.6h6.4M579.5,312.4v6.4M576.8,315.9h6.4M580.0,312.7v6.4M577.7,317.1h6.4M580.9,313.9v6.4M579.1,317.9h6.4M582.3,314.7v6.4M579.5,318.2h6.4M582.7,315.0v6.4M582.1,318.8h6.4M585.3,315.6v6.4M582.6,320.1h6.4M585.8,316.9v6.4M583.1,321.8h6.4M586.3,318.6v6.4M584.2,322.2h6.4M587.4,319.0v6.4M584.9,321.7h6.4M588.1,318.5v6.4M587.2,323.2h6.4M590.4,320.0v6.4M586.8,323.9h6.4M590.0,320.7v6.4M588.5,325.3h6.4M591.7,322.1v6.4M589.0,325.2h6.4M592.2,322.0v6.4M591.5,326.9h6.4M594.7,323.7v6.4M591.1,326.9h6.4M594.3,323.7v6.4M592.5,328.3h6.4M595.7,325.1v6.4M594.1,329.4h6.4M597.3,326.2v6.4M595.5,329.6h6.4M598.7,326.4v6.4M596.4,330.8h6.4M599.6,327.6v6.4M597.4,331.1h6.4M600.6,327.9v6.4M598.5,332.3h6.4M601.7,329.1v6.4M599.8,332.0h6.4M603.0,328.8v6.4M600.8,332.5h6.4M604.0,329.3v6.4M601.6,334.4h6.4M604.8,331.2v6.4M602.2,335.8h6.4M605.4,332.6v6.4M603.3,335.6h6.4M606.5,332.4v6.4M604.8,337.2h6.4M608.0,334.0v6.4M605.5,337.0h6.4M608.7,333.8v6.4M606.4,337.9h6.4M609.6,334.7v6.4M607.9,338.3h6.4M611.1,335.1v6.4M608.4,339.4h6.4M611.6,336.2v6.4M609.5,339.7h6.4M612.7,336.5v6.4M611.3,341.4h6.4M614.5,338.2v6.4M611.9,341.3h6.4M615.1,338.1v6.4M612.4,341.8h6.4M615.6,338.6v6.4M613.4,343.1h6.4M616.6,339.9v6.4M615.2,343.0h6.4M618.4,339.8v6.4M616.9,344.2h6.4M620.1,341.0v6.4M617.8,345.9h6.4M621.0,342.7v6.4M619.0,345.5h6.4M622.2,342.3v6.4M619.1,347.6h6.4M622.3,344.4v6.4M619.4,346.8h6.4M622.6,343.6v6.4M621.5,348.4h6.4M624.7,345.2v6.4M623.2,349.5h6.4M626.4,346.3v6.4M623.7,350.5h6.4M626.9,347.3v6.4M624.8,350.3h6.4M628.0,347.1v6.4M626.2,350.7h6.4M629.4,347.5v6.4M626.8,351.7h6.4M630.0,348.5v6.4M627.9,352.9h6.4M631.1,349.7v6.4M629.7,352.8h6.4M632.9,349.6v6.4M629.7,353.1h6.4M632.9,349.9v6.4M631.4,354.2h6.4M634.6,351.0v6.4M632.8,355.5h6.4M636.0,352.3v6.4M634.6,355.5h6.4M637.8,352.3v6.4M634.7,356.5h6.4M637.9,353.3v6.4M636.8,356.7h6.4M640.0,353.5v6.4M637.0,358.2h6.4M640.2,355.0v6.4M637.5,358.0h6.4M640.7,354.8v6.4M640.0,359.7h6.4M643.2,356.5v6.4" stroke="#4DBBD5" stroke-width="1.3" fill="none"/>
<polyline points="643.0,359.5 647.0,364.0 650.0,367.0 652.0,368.6 669.0,368.6" fill="none" stroke="#4DBBD5" stroke-width="1.15" stroke-linejoin="round" stroke-linecap="butt" />
<path d="M643.6,363.0H648.4M646.0,360.6V365.4" stroke="#4DBBD5" stroke-width="1.1" fill="none"/>
<path d="M646.6,366.0H651.4M649.0,363.6V368.4" stroke="#4DBBD5" stroke-width="1.1" fill="none"/>
<path d="M648.6,368.0H653.4M651.0,365.6V370.4" stroke="#4DBBD5" stroke-width="1.1" fill="none"/>
<path d="M660.1,368.6H664.9M662.5,366.2V371.0" stroke="#4DBBD5" stroke-width="1.1" fill="none"/>
<path d="M665.3,368.6H670.1M667.7,366.2V371.0" stroke="#4DBBD5" stroke-width="1.1" fill="none"/>
<polyline points="512.8,255.9 518.0,259.5 522.3,264.1 527.7,269.5 533.1,275.0 538.5,280.5 544.0,285.8 550.0,290.8 555.9,296.3 560.7,299.8 568.5,306.6 576.3,312.5 584.1,316.4 590.0,319.3 598.7,325.8 607.4,332.3 616.0,338.8 624.7,344.2 633.4,350.7 643.0,357.3" fill="none" stroke="#E64B35" stroke-width="4.3" stroke-linejoin="round" stroke-linecap="butt" />
<path d="M509.6,255.2h6.4M512.8,252.0v6.4M511.4,257.0h6.4M514.6,253.8v6.4M512.3,258.3h6.4M515.5,255.1v6.4M513.5,258.0h6.4M516.7,254.8v6.4M513.3,258.5h6.4M516.5,255.3v6.4M514.9,259.6h6.4M518.1,256.4v6.4M515.2,260.0h6.4M518.4,256.8v6.4M516.9,261.7h6.4M520.1,258.5v6.4M517.3,263.4h6.4M520.5,260.2v6.4M518.7,262.6h6.4M521.9,259.4v6.4M519.2,264.9h6.4M522.4,261.7v6.4M519.9,265.6h6.4M523.1,262.4v6.4M520.3,265.9h6.4M523.5,262.7v6.4M522.7,267.3h6.4M525.9,264.1v6.4M523.3,267.5h6.4M526.5,264.3v6.4M524.0,269.1h6.4M527.2,265.9v6.4M524.5,270.2h6.4M527.7,267.0v6.4M525.8,271.7h6.4M529.0,268.5v6.4M526.8,271.6h6.4M530.0,268.4v6.4M526.9,272.1h6.4M530.1,268.9v6.4M529.0,272.9h6.4M532.2,269.7v6.4M528.7,273.9h6.4M531.9,270.7v6.4M530.4,276.0h6.4M533.6,272.8v6.4M531.5,276.9h6.4M534.7,273.7v6.4M531.4,276.4h6.4M534.6,273.2v6.4M533.6,277.9h6.4M536.8,274.7v6.4M534.4,278.9h6.4M537.6,275.7v6.4M534.3,279.7h6.4M537.5,276.5v6.4M535.1,281.7h6.4M538.3,278.5v6.4M536.9,281.6h6.4M540.1,278.4v6.4M537.6,282.6h6.4M540.8,279.4v6.4M537.8,284.4h6.4M541.0,281.2v6.4M539.7,285.4h6.4M542.9,282.2v6.4M540.4,285.7h6.4M543.6,282.5v6.4M541.0,285.5h6.4M544.2,282.3v6.4M543.3,287.8h6.4M546.5,284.6v6.4M543.1,288.8h6.4M546.3,285.6v6.4M545.0,288.5h6.4M548.2,285.3v6.4M545.7,290.5h6.4M548.9,287.3v6.4M546.5,291.3h6.4M549.7,288.1v6.4M547.0,291.2h6.4M550.2,288.0v6.4M548.8,291.8h6.4M552.0,288.6v6.4M549.0,293.8h6.4M552.2,290.6v6.4M550.3,294.6h6.4M553.5,291.4v6.4M550.8,294.4h6.4M554.0,291.2v6.4M551.9,295.3h6.4M555.1,292.1v6.4M554.0,296.3h6.4M557.2,293.1v6.4M554.4,296.7h6.4M557.6,293.5v6.4M555.4,298.0h6.4M558.6,294.8v6.4M556.2,298.2h6.4M559.4,295.0v6.4M556.7,300.3h6.4M559.9,297.1v6.4M558.1,300.1h6.4M561.3,296.9v6.4M558.8,301.0h6.4M562.0,297.8v6.4M559.9,301.4h6.4M563.1,298.2v6.4M561.6,302.8h6.4M564.8,299.6v6.4M561.7,304.4h6.4M564.9,301.2v6.4M562.5,304.4h6.4M565.7,301.2v6.4M564.9,305.0h6.4M568.1,301.8v6.4M565.1,307.2h6.4M568.3,304.0v6.4M566.8,306.7h6.4M570.0,303.5v6.4M567.0,308.5h6.4M570.2,305.3v6.4M568.1,309.7h6.4M571.3,306.5v6.4M568.9,310.5h6.4M572.1,307.3v6.4M570.4,310.0h6.4M573.6,306.8v6.4M571.4,310.6h6.4M574.6,307.4v6.4M572.9,311.6h6.4M576.1,308.4v6.4M574.3,312.9h6.4M577.5,309.7v6.4M574.5,312.9h6.4M577.7,309.7v6.4M576.1,313.4h6.4M579.3,310.2v6.4M577.7,313.8h6.4M580.9,310.6v6.4M578.3,315.1h6.4M581.5,311.9v6.4M579.0,316.1h6.4M582.2,312.9v6.4M580.4,316.5h6.4M583.6,313.3v6.4M581.8,316.5h6.4M585.0,313.3v6.4M582.7,316.6h6.4M585.9,313.4v6.4M583.5,318.6h6.4M586.7,315.4v6.4M584.9,318.8h6.4M588.1,315.6v6.4M585.7,319.2h6.4M588.9,316.0v6.4M587.2,319.8h6.4M590.4,316.6v6.4M588.2,319.8h6.4M591.4,316.6v6.4M589.2,320.9h6.4M592.4,317.7v6.4M589.9,322.5h6.4M593.1,319.3v6.4M591.3,322.7h6.4M594.5,319.5v6.4M593.4,324.2h6.4M596.6,321.0v6.4M594.4,325.1h6.4M597.6,321.9v6.4M594.1,324.9h6.4M597.3,321.7v6.4M595.0,326.4h6.4M598.2,323.2v6.4M597.1,326.5h6.4M600.3,323.3v6.4M597.7,327.9h6.4M600.9,324.7v6.4M599.3,327.9h6.4M602.5,324.7v6.4M600.6,328.9h6.4M603.8,325.7v6.4M601.3,329.3h6.4M604.5,326.1v6.4M601.4,331.4h6.4M604.6,328.2v6.4M603.5,331.9h6.4M606.7,328.7v6.4M603.3,331.4h6.4M606.5,328.2v6.4M604.6,332.5h6.4M607.8,329.3v6.4M605.9,333.6h6.4M609.1,330.4v6.4M606.4,334.3h6.4M609.6,331.1v6.4M608.5,334.8h6.4M611.7,331.6v6.4M609.9,336.3h6.4M613.1,333.1v6.4M610.8,336.5h6.4M614.0,333.3v6.4M611.3,338.1h6.4M614.5,334.9v6.4M612.2,337.6h6.4M615.4,334.4v6.4M614.1,339.7h6.4M617.3,336.5v6.4M614.2,339.1h6.4M617.4,335.9v6.4M616.4,340.8h6.4M619.6,337.6v6.4M616.0,340.8h6.4M619.2,337.6v6.4M617.2,342.5h6.4M620.4,339.3v6.4M618.5,343.4h6.4M621.7,340.2v6.4M620.6,342.6h6.4M623.8,339.4v6.4M621.6,343.9h6.4M624.8,340.7v6.4M622.8,345.4h6.4M626.0,342.2v6.4M623.0,344.8h6.4M626.2,341.6v6.4M625.2,346.2h6.4M628.4,343.0v6.4M626.2,347.5h6.4M629.4,344.3v6.4M626.9,348.5h6.4M630.1,345.3v6.4M627.7,348.6h6.4M630.9,345.4v6.4M627.8,349.8h6.4M631.0,346.6v6.4M629.5,350.3h6.4M632.7,347.1v6.4M631.4,350.3h6.4M634.6,347.1v6.4M632.2,350.9h6.4M635.4,347.7v6.4M633.2,353.0h6.4M636.4,349.8v6.4M633.4,353.3h6.4M636.6,350.1v6.4M635.8,354.2h6.4M639.0,351.0v6.4M636.1,354.2h6.4M639.3,351.0v6.4M636.3,355.2h6.4M639.5,352.0v6.4M638.0,355.6h6.4M641.2,352.4v6.4M638.9,356.2h6.4M642.1,353.0v6.4" stroke="#E64B35" stroke-width="1.3" fill="none"/>
<polyline points="643.0,357.3 646.0,360.0 649.0,363.0 651.0,366.0 652.8,368.4 670.3,368.4 670.3,375.5 678.8,375.5 678.8,385.3" fill="none" stroke="#E64B35" stroke-width="1.15" stroke-linejoin="round" stroke-linecap="butt" />
<path d="M642.6,358.5H647.4M645.0,356.1V360.9" stroke="#E64B35" stroke-width="1.1" fill="none"/>
<path d="M645.1,361.0H649.9M647.5,358.6V363.4" stroke="#E64B35" stroke-width="1.1" fill="none"/>
<path d="M647.1,363.5H651.9M649.5,361.1V365.9" stroke="#E64B35" stroke-width="1.1" fill="none"/>
<path d="M649.1,366.0H653.9M651.5,363.6V368.4" stroke="#E64B35" stroke-width="1.1" fill="none"/>
<path d="M652.9,368.4H657.7M655.3,366.0V370.8" stroke="#E64B35" stroke-width="1.1" fill="none"/>
<path d="M655.6,368.4H660.4M658.0,366.0V370.8" stroke="#E64B35" stroke-width="1.1" fill="none"/>
<path d="M662.1,368.4H666.9M664.5,366.0V370.8" stroke="#E64B35" stroke-width="1.1" fill="none"/>
<path d="M669.6,375.5H674.4M672.0,373.1V377.9" stroke="#E64B35" stroke-width="1.1" fill="none"/>
<path d="M672.1,375.5H676.9M674.5,373.1V377.9" stroke="#E64B35" stroke-width="1.1" fill="none"/>
<text x="0" y="0" font-size="16.4" font-weight="bold" fill="#000" color="#000" transform="translate(2.00,13.90)">A</text>
<text x="0" y="0" font-size="11.30" text-anchor="middle" fill="#1a1a1a" color="#1a1a1a" transform="translate(13.50,82.60) rotate(-90)">Survival probability</text>
<line x1="43.40" y1="13.00" x2="47.80" y2="13.00" stroke="#000" stroke-width="1.07"/>
<text x="39.80" y="16.40" font-size="9.7" text-anchor="end" fill="#1a1a1a" color="#1a1a1a" xml:space="preserve" >1.00</text>
<line x1="43.40" y1="52.60" x2="47.80" y2="52.60" stroke="#000" stroke-width="1.07"/>
<text x="39.80" y="56.00" font-size="9.7" text-anchor="end" fill="#1a1a1a" color="#1a1a1a" xml:space="preserve" >0.75</text>
<line x1="43.40" y1="92.20" x2="47.80" y2="92.20" stroke="#000" stroke-width="1.07"/>
<text x="39.80" y="95.60" font-size="9.7" text-anchor="end" fill="#1a1a1a" color="#1a1a1a" xml:space="preserve" >0.50</text>
<line x1="43.40" y1="131.70" x2="47.80" y2="131.70" stroke="#000" stroke-width="1.07"/>
<text x="39.80" y="135.10" font-size="9.7" text-anchor="end" fill="#1a1a1a" color="#1a1a1a" xml:space="preserve" >0.25</text>
<line x1="51.10" y1="156.50" x2="51.10" y2="160.90" stroke="#000" stroke-width="1.07"/>
<text x="53.50" y="172.80" font-size="9.7" text-anchor="middle" fill="#1a1a1a" color="#1a1a1a" xml:space="preserve" >0</text>
<line x1="110.20" y1="156.50" x2="110.20" y2="160.90" stroke="#000" stroke-width="1.07"/>
<text x="110.20" y="172.80" font-size="9.7" text-anchor="middle" fill="#1a1a1a" color="#1a1a1a" xml:space="preserve" >100</text>
<line x1="169.80" y1="156.50" x2="169.80" y2="160.90" stroke="#000" stroke-width="1.07"/>
<text x="169.80" y="172.80" font-size="9.7" text-anchor="middle" fill="#1a1a1a" color="#1a1a1a" xml:space="preserve" >200</text>
<path d="M47.80,9.75V156.50H221.70" stroke="#000" stroke-width="1.07" fill="none"/>
<text x="134.75" y="186.50" font-size="11.3" text-anchor="middle" fill="#1a1a1a" color="#1a1a1a" xml:space="preserve" >Time (months)</text>
<text x="184.20" y="18.80" font-size="9.7" text-anchor="start" fill="#1a1a1a" color="#1a1a1a" xml:space="preserve" >THEM6</text>
<line x1="185.10" y1="27.90" x2="194.50" y2="27.90" stroke="#4DBBD5" stroke-width="1.3"/>
<line x1="185.10" y1="39.30" x2="194.50" y2="39.30" stroke="#E64B35" stroke-width="1.3"/>
<text x="200.20" y="31.30" font-size="9.7" text-anchor="start" fill="#1a1a1a" color="#1a1a1a" xml:space="preserve" >Low</text>
<text x="200.20" y="42.20" font-size="9.7" text-anchor="start" fill="#1a1a1a" color="#1a1a1a" xml:space="preserve" >High</text>
<text x="51.00" y="127.60" font-size="9.7" text-anchor="start" fill="#1a1a1a" color="#1a1a1a" xml:space="preserve" >Overall Survival</text>
<text x="51.00" y="138.70" font-size="9.7" text-anchor="start" fill="#1a1a1a" color="#1a1a1a" xml:space="preserve" >HR = 1.42 (1.03 -  1.95)</text>
<text x="51.00" y="149.80" font-size="9.7" text-anchor="start" fill="#1a1a1a" color="#1a1a1a" xml:space="preserve" ><tspan font-style="italic">P</tspan> = 0.033</text>
<rect x="47.80" y="190.90" width="173.90" height="38.70" fill="none" stroke="#000" stroke-width="1.07"/>
<line x1="43.40" y1="201.40" x2="47.80" y2="201.40" stroke="#000" stroke-width="1.07"/>
<text x="40.20" y="205.40" font-size="11.3" text-anchor="end" fill="#4DBBD5" color="#4DBBD5" xml:space="preserve" >Low</text>
<text x="51.10" y="204.90" font-size="9.7" text-anchor="start" fill="#4DBBD5" color="#4DBBD5" xml:space="preserve" >543</text>
<text x="110.20" y="204.90" font-size="9.7" text-anchor="start" fill="#4DBBD5" color="#4DBBD5" xml:space="preserve" >45</text>
<text x="169.80" y="204.90" font-size="9.7" text-anchor="end" fill="#4DBBD5" color="#4DBBD5" xml:space="preserve" >4</text>
<line x1="43.40" y1="219.20" x2="47.80" y2="219.20" stroke="#000" stroke-width="1.07"/>
<text x="40.20" y="223.40" font-size="11.3" text-anchor="end" fill="#E64B35" color="#E64B35" xml:space="preserve" >High</text>
<text x="51.10" y="222.90" font-size="9.7" text-anchor="start" fill="#E64B35" color="#E64B35" xml:space="preserve" >543</text>
<text x="110.20" y="222.90" font-size="9.7" text-anchor="start" fill="#E64B35" color="#E64B35" xml:space="preserve" >42</text>
<text x="169.80" y="222.90" font-size="9.7" text-anchor="end" fill="#E64B35" color="#E64B35" xml:space="preserve" >7</text>
<text x="0" y="0" font-size="16.4" font-weight="bold" fill="#000" color="#000" transform="translate(231.40,13.90)">B</text>
<text x="0" y="0" font-size="11.30" text-anchor="middle" fill="#1a1a1a" color="#1a1a1a" transform="translate(243.50,82.60) rotate(-90)">Survival probability</text>
<line x1="273.20" y1="13.00" x2="277.60" y2="13.00" stroke="#000" stroke-width="1.07"/>
<text x="269.60" y="16.40" font-size="9.7" text-anchor="end" fill="#1a1a1a" color="#1a1a1a" xml:space="preserve" >1.00</text>
<line x1="273.20" y1="52.60" x2="277.60" y2="52.60" stroke="#000" stroke-width="1.07"/>
<text x="269.60" y="56.00" font-size="9.7" text-anchor="end" fill="#1a1a1a" color="#1a1a1a" xml:space="preserve" >0.75</text>
<line x1="273.20" y1="92.20" x2="277.60" y2="92.20" stroke="#000" stroke-width="1.07"/>
<text x="269.60" y="95.60" font-size="9.7" text-anchor="end" fill="#1a1a1a" color="#1a1a1a" xml:space="preserve" >0.50</text>
<line x1="273.20" y1="131.70" x2="277.60" y2="131.70" stroke="#000" stroke-width="1.07"/>
<text x="269.60" y="135.10" font-size="9.7" text-anchor="end" fill="#1a1a1a" color="#1a1a1a" xml:space="preserve" >0.25</text>
<line x1="281.10" y1="156.50" x2="281.10" y2="160.90" stroke="#000" stroke-width="1.07"/>
<text x="283.50" y="172.80" font-size="9.7" text-anchor="middle" fill="#1a1a1a" color="#1a1a1a" xml:space="preserve" >0</text>
<line x1="341.30" y1="156.50" x2="341.30" y2="160.90" stroke="#000" stroke-width="1.07"/>
<text x="341.30" y="172.80" font-size="9.7" text-anchor="middle" fill="#1a1a1a" color="#1a1a1a" xml:space="preserve" >100</text>
<line x1="401.20" y1="156.50" x2="401.20" y2="160.90" stroke="#000" stroke-width="1.07"/>
<text x="401.20" y="172.80" font-size="9.7" text-anchor="middle" fill="#1a1a1a" color="#1a1a1a" xml:space="preserve" >200</text>
<path d="M277.60,9.75V156.50H453.90" stroke="#000" stroke-width="1.07" fill="none"/>
<text x="365.75" y="186.50" font-size="11.3" text-anchor="middle" fill="#1a1a1a" color="#1a1a1a" xml:space="preserve" >Time (months)</text>
<text x="408.30" y="18.80" font-size="9.7" text-anchor="start" fill="#1a1a1a" color="#1a1a1a" xml:space="preserve" >PLEKHA4</text>
<line x1="409.00" y1="27.90" x2="418.40" y2="27.90" stroke="#4DBBD5" stroke-width="1.3"/>
<line x1="409.00" y1="39.30" x2="418.40" y2="39.30" stroke="#E64B35" stroke-width="1.3"/>
<text x="424.20" y="31.30" font-size="9.7" text-anchor="start" fill="#1a1a1a" color="#1a1a1a" xml:space="preserve" >Low</text>
<text x="424.20" y="42.20" font-size="9.7" text-anchor="start" fill="#1a1a1a" color="#1a1a1a" xml:space="preserve" >High</text>
<text x="281.00" y="127.60" font-size="9.7" text-anchor="start" fill="#1a1a1a" color="#1a1a1a" xml:space="preserve" >Overall Survival</text>
<text x="281.00" y="138.70" font-size="9.7" text-anchor="start" fill="#1a1a1a" color="#1a1a1a" xml:space="preserve" >HR = 0.59 (0.43 -  0.82)</text>
<text x="281.00" y="149.80" font-size="9.7" text-anchor="start" fill="#1a1a1a" color="#1a1a1a" xml:space="preserve" ><tspan font-style="italic">P</tspan> = 0.002</text>
<rect x="277.60" y="190.90" width="176.30" height="38.70" fill="none" stroke="#000" stroke-width="1.07"/>
<line x1="273.20" y1="201.40" x2="277.60" y2="201.40" stroke="#000" stroke-width="1.07"/>
<text x="270.00" y="205.40" font-size="11.3" text-anchor="end" fill="#4DBBD5" color="#4DBBD5" xml:space="preserve" >Low</text>
<text x="281.10" y="204.90" font-size="9.7" text-anchor="start" fill="#4DBBD5" color="#4DBBD5" xml:space="preserve" >542</text>
<text x="341.30" y="204.90" font-size="9.7" text-anchor="start" fill="#4DBBD5" color="#4DBBD5" xml:space="preserve" >38</text>
<text x="401.20" y="204.90" font-size="9.7" text-anchor="end" fill="#4DBBD5" color="#4DBBD5" xml:space="preserve" >4</text>
<line x1="273.20" y1="219.20" x2="277.60" y2="219.20" stroke="#000" stroke-width="1.07"/>
<text x="270.00" y="223.40" font-size="11.3" text-anchor="end" fill="#E64B35" color="#E64B35" xml:space="preserve" >High</text>
<text x="281.10" y="222.90" font-size="9.7" text-anchor="start" fill="#E64B35" color="#E64B35" xml:space="preserve" >544</text>
<text x="341.30" y="222.90" font-size="9.7" text-anchor="start" fill="#E64B35" color="#E64B35" xml:space="preserve" >49</text>
<text x="401.20" y="222.90" font-size="9.7" text-anchor="end" fill="#E64B35" color="#E64B35" xml:space="preserve" >7</text>
<text x="0" y="0" font-size="16.4" font-weight="bold" fill="#000" color="#000" transform="translate(466.70,13.90)">C</text>
<text x="0" y="0" font-size="11.07" text-anchor="middle" fill="#1a1a1a" color="#1a1a1a" transform="translate(475.00,82.60) rotate(-90)">Survival probability</text>
<line x1="498.90" y1="13.30" x2="503.30" y2="13.30" stroke="#000" stroke-width="1.07"/>
<text x="495.30" y="16.63" font-size="9.505999999999998" text-anchor="end" fill="#1a1a1a" color="#1a1a1a" xml:space="preserve" >1.0</text>
<line x1="498.90" y1="46.20" x2="503.30" y2="46.20" stroke="#000" stroke-width="1.07"/>
<text x="495.30" y="49.53" font-size="9.505999999999998" text-anchor="end" fill="#1a1a1a" color="#1a1a1a" xml:space="preserve" >0.8</text>
<line x1="498.90" y1="79.10" x2="503.30" y2="79.10" stroke="#000" stroke-width="1.07"/>
<text x="495.30" y="82.43" font-size="9.505999999999998" text-anchor="end" fill="#1a1a1a" color="#1a1a1a" xml:space="preserve" >0.6</text>
<line x1="498.90" y1="112.00" x2="503.30" y2="112.00" stroke="#000" stroke-width="1.07"/>
<text x="495.30" y="115.33" font-size="9.505999999999998" text-anchor="end" fill="#1a1a1a" color="#1a1a1a" xml:space="preserve" >0.4</text>
<line x1="498.90" y1="144.90" x2="503.30" y2="144.90" stroke="#000" stroke-width="1.07"/>
<text x="495.30" y="148.23" font-size="9.505999999999998" text-anchor="end" fill="#1a1a1a" color="#1a1a1a" xml:space="preserve" >0.2</text>
<line x1="506.70" y1="156.50" x2="506.70" y2="160.90" stroke="#000" stroke-width="1.07"/>
<text x="509.10" y="172.80" font-size="9.505999999999998" text-anchor="middle" fill="#1a1a1a" color="#1a1a1a" xml:space="preserve" >0</text>
<line x1="566.60" y1="156.50" x2="566.60" y2="160.90" stroke="#000" stroke-width="1.07"/>
<text x="566.60" y="172.80" font-size="9.505999999999998" text-anchor="middle" fill="#1a1a1a" color="#1a1a1a" xml:space="preserve" >100</text>
<line x1="626.20" y1="156.50" x2="626.20" y2="160.90" stroke="#000" stroke-width="1.07"/>
<text x="626.20" y="172.80" font-size="9.505999999999998" text-anchor="middle" fill="#1a1a1a" color="#1a1a1a" xml:space="preserve" >200</text>
<path d="M503.30,9.75V156.50H679.50" stroke="#000" stroke-width="1.07" fill="none"/>
<text x="591.40" y="186.50" font-size="11.074" text-anchor="middle" fill="#1a1a1a" color="#1a1a1a" xml:space="preserve" >Time (months)</text>
<text x="642.60" y="18.80" font-size="9.505999999999998" text-anchor="start" fill="#1a1a1a" color="#1a1a1a" xml:space="preserve" >NR1H3</text>
<line x1="643.20" y1="27.72" x2="652.41" y2="27.72" stroke="#4DBBD5" stroke-width="1.3"/>
<line x1="643.20" y1="38.89" x2="652.41" y2="38.89" stroke="#E64B35" stroke-width="1.3"/>
<text x="658.50" y="31.05" font-size="9.505999999999998" text-anchor="start" fill="#1a1a1a" color="#1a1a1a" xml:space="preserve" >Low</text>
<text x="658.50" y="41.73" font-size="9.505999999999998" text-anchor="start" fill="#1a1a1a" color="#1a1a1a" xml:space="preserve" >High</text>
<text x="506.80" y="127.40" font-size="9.505999999999998" text-anchor="start" fill="#1a1a1a" color="#1a1a1a" xml:space="preserve" >Overall Survival</text>
<text x="506.80" y="138.50" font-size="9.505999999999998" text-anchor="start" fill="#1a1a1a" color="#1a1a1a" xml:space="preserve" >HR = 0.68 (0.49 -  0.94)</text>
<text x="506.80" y="149.60" font-size="9.505999999999998" text-anchor="start" fill="#1a1a1a" color="#1a1a1a" xml:space="preserve" ><tspan font-style="italic">P</tspan> = 0.019</text>
<rect x="503.30" y="190.90" width="176.20" height="38.70" fill="none" stroke="#000" stroke-width="1.07"/>
<line x1="498.90" y1="201.40" x2="503.30" y2="201.40" stroke="#000" stroke-width="1.07"/>
<text x="495.70" y="205.40" font-size="11.074" text-anchor="end" fill="#4DBBD5" color="#4DBBD5" xml:space="preserve" >Low</text>
<text x="506.70" y="204.90" font-size="9.505999999999998" text-anchor="start" fill="#4DBBD5" color="#4DBBD5" xml:space="preserve" >543</text>
<text x="566.60" y="204.90" font-size="9.505999999999998" text-anchor="start" fill="#4DBBD5" color="#4DBBD5" xml:space="preserve" >48</text>
<text x="626.20" y="204.90" font-size="9.505999999999998" text-anchor="end" fill="#4DBBD5" color="#4DBBD5" xml:space="preserve" >8</text>
<line x1="498.90" y1="219.20" x2="503.30" y2="219.20" stroke="#000" stroke-width="1.07"/>
<text x="495.70" y="223.40" font-size="11.074" text-anchor="end" fill="#E64B35" color="#E64B35" xml:space="preserve" >High</text>
<text x="506.70" y="222.90" font-size="9.505999999999998" text-anchor="start" fill="#E64B35" color="#E64B35" xml:space="preserve" >543</text>
<text x="566.60" y="222.90" font-size="9.505999999999998" text-anchor="start" fill="#E64B35" color="#E64B35" xml:space="preserve" >39</text>
<text x="626.20" y="222.90" font-size="9.505999999999998" text-anchor="end" fill="#E64B35" color="#E64B35" xml:space="preserve" >3</text>
<text x="0" y="0" font-size="16.4" font-weight="bold" fill="#000" color="#000" transform="translate(2.10,246.30)">D</text>
<text x="0" y="0" font-size="11.30" text-anchor="middle" fill="#1a1a1a" color="#1a1a1a" transform="translate(13.50,321.00) rotate(-90)">Survival probability</text>
<line x1="43.30" y1="255.70" x2="47.70" y2="255.70" stroke="#000" stroke-width="1.07"/>
<text x="39.70" y="259.10" font-size="9.7" text-anchor="end" fill="#1a1a1a" color="#1a1a1a" xml:space="preserve" >1.00</text>
<line x1="43.30" y1="288.10" x2="47.70" y2="288.10" stroke="#000" stroke-width="1.07"/>
<text x="39.70" y="291.50" font-size="9.7" text-anchor="end" fill="#1a1a1a" color="#1a1a1a" xml:space="preserve" >0.75</text>
<line x1="43.30" y1="320.60" x2="47.70" y2="320.60" stroke="#000" stroke-width="1.07"/>
<text x="39.70" y="324.00" font-size="9.7" text-anchor="end" fill="#1a1a1a" color="#1a1a1a" xml:space="preserve" >0.50</text>
<line x1="43.30" y1="353.30" x2="47.70" y2="353.30" stroke="#000" stroke-width="1.07"/>
<text x="39.70" y="356.70" font-size="9.7" text-anchor="end" fill="#1a1a1a" color="#1a1a1a" xml:space="preserve" >0.25</text>
<line x1="43.30" y1="386.10" x2="47.70" y2="386.10" stroke="#000" stroke-width="1.07"/>
<text x="39.70" y="389.50" font-size="9.7" text-anchor="end" fill="#1a1a1a" color="#1a1a1a" xml:space="preserve" >0.00</text>
<line x1="51.10" y1="388.20" x2="51.10" y2="392.60" stroke="#000" stroke-width="1.07"/>
<text x="53.50" y="405.00" font-size="9.7" text-anchor="middle" fill="#1a1a1a" color="#1a1a1a" xml:space="preserve" >0</text>
<line x1="98.30" y1="388.20" x2="98.30" y2="392.60" stroke="#000" stroke-width="1.07"/>
<text x="98.30" y="405.00" font-size="9.7" text-anchor="middle" fill="#1a1a1a" color="#1a1a1a" xml:space="preserve" >100</text>
<line x1="145.40" y1="388.20" x2="145.40" y2="392.60" stroke="#000" stroke-width="1.07"/>
<text x="145.40" y="405.00" font-size="9.7" text-anchor="middle" fill="#1a1a1a" color="#1a1a1a" xml:space="preserve" >200</text>
<line x1="192.60" y1="388.20" x2="192.60" y2="392.60" stroke="#000" stroke-width="1.07"/>
<text x="192.60" y="405.00" font-size="9.7" text-anchor="middle" fill="#1a1a1a" color="#1a1a1a" xml:space="preserve" >300</text>
<path d="M47.70,252.30V388.20H221.80" stroke="#000" stroke-width="1.07" fill="none"/>
<text x="134.75" y="418.00" font-size="11.3" text-anchor="middle" fill="#1a1a1a" color="#1a1a1a" xml:space="preserve" >Time</text>
<text x="134.75" y="247.70" font-size="11.3" text-anchor="middle" fill="#1a1a1a" color="#1a1a1a" xml:space="preserve" >Overall Survival (Months)</text>
<text x="184.20" y="260.80" font-size="9.7" text-anchor="start" fill="#1a1a1a" color="#1a1a1a" xml:space="preserve" >THEM6</text>
<line x1="185.10" y1="269.90" x2="194.50" y2="269.90" stroke="#4DBBD5" stroke-width="1.3"/>
<line x1="185.10" y1="281.30" x2="194.50" y2="281.30" stroke="#E64B35" stroke-width="1.3"/>
<text x="200.20" y="273.30" font-size="9.7" text-anchor="start" fill="#1a1a1a" color="#1a1a1a" xml:space="preserve" >Low</text>
<text x="200.20" y="284.20" font-size="9.7" text-anchor="start" fill="#1a1a1a" color="#1a1a1a" xml:space="preserve" >High</text>
<text x="51.20" y="371.90" font-size="9.7" text-anchor="start" fill="#1a1a1a" color="#1a1a1a" xml:space="preserve" >HR = 1.24 (1.11 -  1.40)</text>
<text x="51.20" y="382.80" font-size="9.7" text-anchor="start" fill="#1a1a1a" color="#1a1a1a" xml:space="preserve" ><tspan font-style="italic">P</tspan> &lt; 0.001</text>
<rect x="47.70" y="422.90" width="174.10" height="35.70" fill="none" stroke="#000" stroke-width="1.07"/>
<line x1="43.30" y1="432.50" x2="47.70" y2="432.50" stroke="#000" stroke-width="1.07"/>
<text x="40.10" y="436.60" font-size="11.3" text-anchor="end" fill="#4DBBD5" color="#4DBBD5" xml:space="preserve" >Low</text>
<text x="51.10" y="436.10" font-size="9.7" text-anchor="start" fill="#4DBBD5" color="#4DBBD5" xml:space="preserve" >990</text>
<text x="98.30" y="436.10" font-size="9.7" text-anchor="start" fill="#4DBBD5" color="#4DBBD5" xml:space="preserve" >614</text>
<text x="145.40" y="436.10" font-size="9.7" text-anchor="end" fill="#4DBBD5" color="#4DBBD5" xml:space="preserve" >203</text>
<text x="192.60" y="436.10" font-size="9.7" text-anchor="end" fill="#4DBBD5" color="#4DBBD5" xml:space="preserve" >9</text>
<line x1="43.30" y1="448.60" x2="47.70" y2="448.60" stroke="#000" stroke-width="1.07"/>
<text x="40.10" y="453.00" font-size="11.3" text-anchor="end" fill="#E64B35" color="#E64B35" xml:space="preserve" >High</text>
<text x="51.10" y="452.50" font-size="9.7" text-anchor="start" fill="#E64B35" color="#E64B35" xml:space="preserve" >990</text>
<text x="98.30" y="452.50" font-size="9.7" text-anchor="start" fill="#E64B35" color="#E64B35" xml:space="preserve" >529</text>
<text x="145.40" y="452.50" font-size="9.7" text-anchor="end" fill="#E64B35" color="#E64B35" xml:space="preserve" >173</text>
<text x="192.60" y="452.50" font-size="9.7" text-anchor="end" fill="#E64B35" color="#E64B35" xml:space="preserve" >4</text>
<text x="0" y="0" font-size="16.4" font-weight="bold" fill="#000" color="#000" transform="translate(232.20,246.30)">E</text>
<text x="0" y="0" font-size="11.53" text-anchor="middle" fill="#1a1a1a" color="#1a1a1a" transform="translate(244.00,321.00) rotate(-90)">Survival probability</text>
<line x1="273.80" y1="255.70" x2="278.20" y2="255.70" stroke="#000" stroke-width="1.07"/>
<text x="270.20" y="259.17" font-size="9.894" text-anchor="end" fill="#1a1a1a" color="#1a1a1a" xml:space="preserve" >1.00</text>
<line x1="273.80" y1="288.10" x2="278.20" y2="288.10" stroke="#000" stroke-width="1.07"/>
<text x="270.20" y="291.57" font-size="9.894" text-anchor="end" fill="#1a1a1a" color="#1a1a1a" xml:space="preserve" >0.75</text>
<line x1="273.80" y1="320.60" x2="278.20" y2="320.60" stroke="#000" stroke-width="1.07"/>
<text x="270.20" y="324.07" font-size="9.894" text-anchor="end" fill="#1a1a1a" color="#1a1a1a" xml:space="preserve" >0.50</text>
<line x1="273.80" y1="353.30" x2="278.20" y2="353.30" stroke="#000" stroke-width="1.07"/>
<text x="270.20" y="356.77" font-size="9.894" text-anchor="end" fill="#1a1a1a" color="#1a1a1a" xml:space="preserve" >0.25</text>
<line x1="273.80" y1="386.10" x2="278.20" y2="386.10" stroke="#000" stroke-width="1.07"/>
<text x="270.20" y="389.57" font-size="9.894" text-anchor="end" fill="#1a1a1a" color="#1a1a1a" xml:space="preserve" >0.00</text>
<line x1="281.90" y1="388.20" x2="281.90" y2="392.60" stroke="#000" stroke-width="1.07"/>
<text x="284.30" y="405.00" font-size="9.894" text-anchor="middle" fill="#1a1a1a" color="#1a1a1a" xml:space="preserve" >0</text>
<line x1="330.20" y1="388.20" x2="330.20" y2="392.60" stroke="#000" stroke-width="1.07"/>
<text x="330.20" y="405.00" font-size="9.894" text-anchor="middle" fill="#1a1a1a" color="#1a1a1a" xml:space="preserve" >100</text>
<line x1="378.70" y1="388.20" x2="378.70" y2="392.60" stroke="#000" stroke-width="1.07"/>
<text x="378.70" y="405.00" font-size="9.894" text-anchor="middle" fill="#1a1a1a" color="#1a1a1a" xml:space="preserve" >200</text>
<line x1="427.30" y1="388.20" x2="427.30" y2="392.60" stroke="#000" stroke-width="1.07"/>
<text x="427.30" y="405.00" font-size="9.894" text-anchor="middle" fill="#1a1a1a" color="#1a1a1a" xml:space="preserve" >300</text>
<path d="M278.20,252.30V388.20H455.00" stroke="#000" stroke-width="1.07" fill="none"/>
<text x="368.10" y="418.00" font-size="11.526000000000002" text-anchor="middle" fill="#1a1a1a" color="#1a1a1a" xml:space="preserve" >Time</text>
<text x="368.10" y="247.70" font-size="11.526000000000002" text-anchor="middle" fill="#1a1a1a" color="#1a1a1a" xml:space="preserve" >Overall Survival (Months)</text>
<text x="411.10" y="260.60" font-size="9.894" text-anchor="start" fill="#1a1a1a" color="#1a1a1a" xml:space="preserve" >PLEKHA4</text>
<line x1="411.80" y1="269.88" x2="421.39" y2="269.88" stroke="#4DBBD5" stroke-width="1.3"/>
<line x1="411.80" y1="281.51" x2="421.39" y2="281.51" stroke="#E64B35" stroke-width="1.3"/>
<text x="427.20" y="273.35" font-size="9.894" text-anchor="start" fill="#1a1a1a" color="#1a1a1a" xml:space="preserve" >Low</text>
<text x="427.20" y="284.47" font-size="9.894" text-anchor="start" fill="#1a1a1a" color="#1a1a1a" xml:space="preserve" >High</text>
<text x="281.80" y="371.80" font-size="9.894" text-anchor="start" fill="#1a1a1a" color="#1a1a1a" xml:space="preserve" >HR = 0.81 (0.72 -  0.91)</text>
<text x="281.80" y="382.70" font-size="9.894" text-anchor="start" fill="#1a1a1a" color="#1a1a1a" xml:space="preserve" ><tspan font-style="italic">P</tspan> &lt; 0.001</text>
<rect x="278.20" y="422.90" width="176.80" height="35.70" fill="none" stroke="#000" stroke-width="1.07"/>
<line x1="273.80" y1="432.50" x2="278.20" y2="432.50" stroke="#000" stroke-width="1.07"/>
<text x="270.60" y="436.60" font-size="11.526000000000002" text-anchor="end" fill="#4DBBD5" color="#4DBBD5" xml:space="preserve" >Low</text>
<text x="281.90" y="436.10" font-size="9.894" text-anchor="start" fill="#4DBBD5" color="#4DBBD5" xml:space="preserve" >990</text>
<text x="330.20" y="436.10" font-size="9.894" text-anchor="start" fill="#4DBBD5" color="#4DBBD5" xml:space="preserve" >527</text>
<text x="378.70" y="436.10" font-size="9.894" text-anchor="end" fill="#4DBBD5" color="#4DBBD5" xml:space="preserve" >168</text>
<text x="427.30" y="436.10" font-size="9.894" text-anchor="end" fill="#4DBBD5" color="#4DBBD5" xml:space="preserve" >6</text>
<line x1="273.80" y1="448.60" x2="278.20" y2="448.60" stroke="#000" stroke-width="1.07"/>
<text x="270.60" y="453.00" font-size="11.526000000000002" text-anchor="end" fill="#E64B35" color="#E64B35" xml:space="preserve" >High</text>
<text x="281.90" y="452.50" font-size="9.894" text-anchor="start" fill="#E64B35" color="#E64B35" xml:space="preserve" >990</text>
<text x="330.20" y="452.50" font-size="9.894" text-anchor="start" fill="#E64B35" color="#E64B35" xml:space="preserve" >616</text>
<text x="378.70" y="452.50" font-size="9.894" text-anchor="end" fill="#E64B35" color="#E64B35" xml:space="preserve" >208</text>
<text x="427.30" y="452.50" font-size="9.894" text-anchor="end" fill="#E64B35" color="#E64B35" xml:space="preserve" >7</text>
<text x="0" y="0" font-size="16.4" font-weight="bold" fill="#000" color="#000" transform="translate(468.10,246.30)">F</text>
<text x="0" y="0" font-size="11.30" text-anchor="middle" fill="#1a1a1a" color="#1a1a1a" transform="translate(475.00,321.00) rotate(-90)">Survival probability</text>
<line x1="504.80" y1="255.70" x2="509.20" y2="255.70" stroke="#000" stroke-width="1.07"/>
<text x="501.20" y="259.10" font-size="9.7" text-anchor="end" fill="#1a1a1a" color="#1a1a1a" xml:space="preserve" >1.00</text>
<line x1="504.80" y1="288.10" x2="509.20" y2="288.10" stroke="#000" stroke-width="1.07"/>
<text x="501.20" y="291.50" font-size="9.7" text-anchor="end" fill="#1a1a1a" color="#1a1a1a" xml:space="preserve" >0.75</text>
<line x1="504.80" y1="320.60" x2="509.20" y2="320.60" stroke="#000" stroke-width="1.07"/>
<text x="501.20" y="324.00" font-size="9.7" text-anchor="end" fill="#1a1a1a" color="#1a1a1a" xml:space="preserve" >0.50</text>
<line x1="504.80" y1="353.30" x2="509.20" y2="353.30" stroke="#000" stroke-width="1.07"/>
<text x="501.20" y="356.70" font-size="9.7" text-anchor="end" fill="#1a1a1a" color="#1a1a1a" xml:space="preserve" >0.25</text>
<line x1="504.80" y1="386.10" x2="509.20" y2="386.10" stroke="#000" stroke-width="1.07"/>
<text x="501.20" y="389.50" font-size="9.7" text-anchor="end" fill="#1a1a1a" color="#1a1a1a" xml:space="preserve" >0.00</text>
<line x1="513.00" y1="388.20" x2="513.00" y2="392.60" stroke="#000" stroke-width="1.07"/>
<text x="515.40" y="405.00" font-size="9.7" text-anchor="middle" fill="#1a1a1a" color="#1a1a1a" xml:space="preserve" >0</text>
<line x1="559.60" y1="388.20" x2="559.60" y2="392.60" stroke="#000" stroke-width="1.07"/>
<text x="559.60" y="405.00" font-size="9.7" text-anchor="middle" fill="#1a1a1a" color="#1a1a1a" xml:space="preserve" >100</text>
<line x1="606.50" y1="388.20" x2="606.50" y2="392.60" stroke="#000" stroke-width="1.07"/>
<text x="606.50" y="405.00" font-size="9.7" text-anchor="middle" fill="#1a1a1a" color="#1a1a1a" xml:space="preserve" >200</text>
<line x1="653.70" y1="388.20" x2="653.70" y2="392.60" stroke="#000" stroke-width="1.07"/>
<text x="653.70" y="405.00" font-size="9.7" text-anchor="middle" fill="#1a1a1a" color="#1a1a1a" xml:space="preserve" >300</text>
<path d="M509.20,252.30V388.20H682.00" stroke="#000" stroke-width="1.07" fill="none"/>
<text x="596.30" y="418.00" font-size="11.3" text-anchor="middle" fill="#1a1a1a" color="#1a1a1a" xml:space="preserve" >Time</text>
<text x="596.30" y="247.70" font-size="11.3" text-anchor="middle" fill="#1a1a1a" color="#1a1a1a" xml:space="preserve" >Overall Survival (Months)</text>
<text x="645.60" y="260.80" font-size="9.7" text-anchor="start" fill="#1a1a1a" color="#1a1a1a" xml:space="preserve" >NR1H3</text>
<line x1="646.20" y1="269.90" x2="655.60" y2="269.90" stroke="#4DBBD5" stroke-width="1.3"/>
<line x1="646.20" y1="281.30" x2="655.60" y2="281.30" stroke="#E64B35" stroke-width="1.3"/>
<text x="661.60" y="273.30" font-size="9.7" text-anchor="start" fill="#1a1a1a" color="#1a1a1a" xml:space="preserve" >Low</text>
<text x="661.60" y="284.20" font-size="9.7" text-anchor="start" fill="#1a1a1a" color="#1a1a1a" xml:space="preserve" >High</text>
<text x="512.80" y="371.90" font-size="9.7" text-anchor="start" fill="#1a1a1a" color="#1a1a1a" xml:space="preserve" >HR = 0.95 (0.85 -  1.07)</text>
<text x="512.80" y="382.80" font-size="9.7" text-anchor="start" fill="#1a1a1a" color="#1a1a1a" xml:space="preserve" ><tspan font-style="italic">P</tspan> = 0.384</text>
<rect x="509.20" y="422.90" width="172.80" height="35.70" fill="none" stroke="#000" stroke-width="1.07"/>
<line x1="504.80" y1="432.50" x2="509.20" y2="432.50" stroke="#000" stroke-width="1.07"/>
<text x="501.60" y="436.60" font-size="11.3" text-anchor="end" fill="#4DBBD5" color="#4DBBD5" xml:space="preserve" >Low</text>
<text x="513.00" y="436.10" font-size="9.7" text-anchor="start" fill="#4DBBD5" color="#4DBBD5" xml:space="preserve" >990</text>
<text x="559.60" y="436.10" font-size="9.7" text-anchor="start" fill="#4DBBD5" color="#4DBBD5" xml:space="preserve" >547</text>
<text x="606.50" y="436.10" font-size="9.7" text-anchor="end" fill="#4DBBD5" color="#4DBBD5" xml:space="preserve" >168</text>
<text x="653.70" y="436.10" font-size="9.7" text-anchor="end" fill="#4DBBD5" color="#4DBBD5" xml:space="preserve" >3</text>
<line x1="504.80" y1="448.60" x2="509.20" y2="448.60" stroke="#000" stroke-width="1.07"/>
<text x="501.60" y="453.00" font-size="11.3" text-anchor="end" fill="#E64B35" color="#E64B35" xml:space="preserve" >High</text>
<text x="513.00" y="452.50" font-size="9.7" text-anchor="start" fill="#E64B35" color="#E64B35" xml:space="preserve" >990</text>
<text x="559.60" y="452.50" font-size="9.7" text-anchor="start" fill="#E64B35" color="#E64B35" xml:space="preserve" >596</text>
<text x="606.50" y="452.50" font-size="9.7" text-anchor="end" fill="#E64B35" color="#E64B35" xml:space="preserve" >208</text>
<text x="653.70" y="452.50" font-size="9.7" text-anchor="end" fill="#E64B35" color="#E64B35" xml:space="preserve" >10</text>
</svg>
</body></html>
